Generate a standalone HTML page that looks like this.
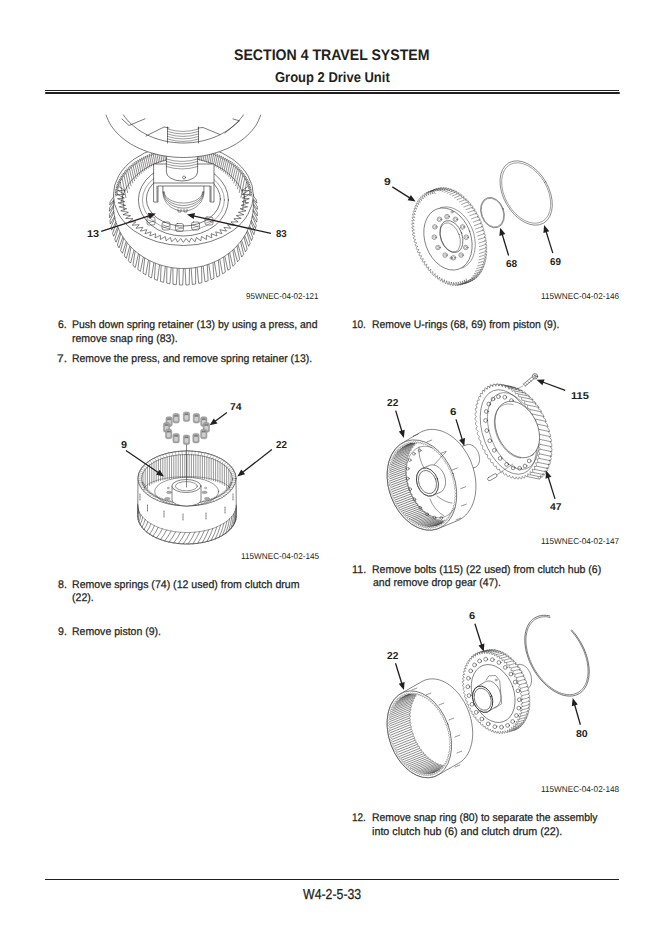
<!DOCTYPE html>
<html><head><meta charset="utf-8"><title>W4-2-5-33</title>
<style>
html,body{margin:0;padding:0;background:#fff}
body{width:665px;height:937px;position:relative;overflow:hidden}
.t{position:absolute;font-family:"Liberation Sans",sans-serif;white-space:pre;line-height:1;color:#231f20;transform-origin:0 0;text-rendering:geometricPrecision;-webkit-text-stroke:0.25px #231f20}
.b{font-weight:bold;-webkit-text-stroke:0}
.c{-webkit-text-stroke:0}
.r{position:absolute;background:#231f20}
svg{position:absolute;left:0;top:0}
</style></head><body>

<svg width="665" height="937" viewBox="0 0 665 937"><defs><clipPath id="c4"><ellipse cx="422.0" cy="485.0" rx="30.7" ry="43.2" transform="rotate(-20 422.0 485.0)"/></clipPath><clipPath id="c5"><ellipse cx="419.4" cy="734.3" rx="27.8" ry="41.3" transform="rotate(-20 419.4 734.3)"/></clipPath></defs><g stroke="#231f20" fill="none" stroke-width="0.6" stroke-linejoin="round" stroke-linecap="round"><ellipse cx="183.4" cy="212.0" rx="74.0" ry="73.0" transform="rotate(0 183.4 212.0)" fill="#fff" stroke="none"/><path d="M252.3 194.5 L256.4 200.0 Q256.6 201.6 256.9 203.2 L253.0 198.4 M253.1 200.0 L257.2 206.3 Q257.3 207.9 257.4 209.5 L253.4 203.9 M253.4 205.5 L257.4 212.7 Q257.3 214.3 257.3 215.9 L253.3 209.5 M253.1 211.0 L257.1 219.0 Q256.9 220.6 256.7 222.2 L252.6 215.0 M252.3 216.5 L256.2 225.4 Q255.8 226.9 255.5 228.5 L251.4 220.4 M251.0 221.9 L254.7 231.6 Q254.2 233.1 253.8 234.6 L249.7 225.8 M249.2 227.2 L252.7 237.6 Q252.1 239.1 251.5 240.6 L247.5 230.9 M246.8 232.3 L250.2 243.5 Q249.4 244.9 248.7 246.3 L244.9 235.9 M244.0 237.2 L247.1 249.1 Q246.3 250.5 245.4 251.8 L241.7 240.6 M240.7 241.9 L243.6 254.4 Q242.6 255.7 241.7 257.0 L238.1 245.1 M237.0 246.3 L239.6 259.4 Q238.6 260.6 237.5 261.8 L234.1 249.3 M232.9 250.4 L235.2 264.1 Q234.0 265.2 232.9 266.3 L229.7 253.1 M228.4 254.1 L230.4 268.4 Q229.2 269.4 227.9 270.3 L224.9 256.6 M223.6 257.5 L225.3 272.2 Q223.9 273.1 222.5 273.9 L219.9 259.7 M218.4 260.5 L219.8 275.6 Q218.4 276.3 216.9 277.1 L214.5 262.4 M213.0 263.1 L214.0 278.4 Q212.5 279.1 211.0 279.7 L208.9 264.6 M207.3 265.2 L208.1 280.8 Q206.5 281.3 205.0 281.8 L203.2 266.4 M201.5 266.8 L201.9 282.7 Q200.3 283.1 198.7 283.4 L197.2 267.7 M195.6 268.0 L195.6 284.0 Q194.0 284.2 192.3 284.5 L191.2 268.6 M189.5 268.8 L189.2 284.8 Q187.5 284.9 185.9 285.0 L185.1 269.0 M183.4 269.0 L182.7 285.0 Q181.1 284.9 179.4 284.9 L179.0 268.9 M177.3 268.8 L176.3 284.7 Q174.6 284.5 173.0 284.3 L172.9 268.3 M171.2 268.0 L169.9 283.8 Q168.3 283.4 166.7 283.1 L166.9 267.2 M165.3 266.8 L163.6 282.3 Q162.0 281.9 160.5 281.4 L161.1 265.7 M159.5 265.2 L157.4 280.4 Q155.9 279.8 154.4 279.2 L155.4 263.7 M153.8 263.1 L151.5 277.9 Q150.0 277.1 148.6 276.4 L149.9 261.3 M148.4 260.5 L145.8 274.9 Q144.4 274.0 143.0 273.2 L144.7 258.4 M143.2 257.5 L140.4 271.4 Q139.1 270.4 137.8 269.5 L139.7 255.1 M138.4 254.1 L135.3 267.5 Q134.1 266.4 132.9 265.3 L135.1 251.5 M133.9 250.4 L130.6 263.1 Q129.5 262.0 128.4 260.8 L130.9 247.5 M129.8 246.3 L126.3 258.4 Q125.3 257.1 124.3 255.9 L127.1 243.2 M126.1 241.9 L122.4 253.3 Q121.5 252.0 120.6 250.6 L123.7 238.6 M122.8 237.2 L119.0 247.9 Q118.2 246.5 117.4 245.1 L120.7 233.7 M120.0 232.3 L116.0 242.2 Q115.4 240.8 114.8 239.3 L118.2 228.7 M117.6 227.2 L113.6 236.3 Q113.1 234.8 112.6 233.3 L116.2 223.4 M115.8 221.9 L111.7 230.2 Q111.4 228.7 111.0 227.1 L114.8 218.1 M114.5 216.5 L110.4 224.0 Q110.2 222.4 109.9 220.8 L113.8 212.6 M113.7 211.0 L109.6 217.7 Q109.5 216.1 109.4 214.5 L113.4 207.1 M113.4 205.5 L109.4 211.3 Q109.5 209.7 109.5 208.1 L113.5 201.5 M113.7 200.0 L109.7 205.0 Q109.9 203.4 110.1 201.8 L114.2 196.0" stroke-width="0.55"/><path d="M253.1 199.5 L253.4 202.8 L253.4 206.1 L253.2 209.5 L252.9 212.8 L252.3 216.1 L251.6 219.4 L250.7 222.6 L249.5 225.8 L248.2 228.9 L246.8 232.0 L245.1 235.0 L243.3 237.9 L241.3 240.7 L239.1 243.4 L236.8 246.0 L234.4 248.5 L231.8 250.9 L229.1 253.1 L226.2 255.2 L223.2 257.2 L220.1 259.0 L217.0 260.7 L213.7 262.2 L210.3 263.6 L206.9 264.8 L203.4 265.9 L199.8 266.7 L196.2 267.4 L192.6 268.0 L188.9 268.3 L185.2 268.5 L181.6 268.5 L177.9 268.3 L174.2 268.0 L170.6 267.4 L167.0 266.7 L163.4 265.9 L159.9 264.8 L156.5 263.6 L153.1 262.2 L149.8 260.7 L146.7 259.0 L143.6 257.2 L140.6 255.2 L137.7 253.1 L135.0 250.9 L132.4 248.5 L130.0 246.0 L127.7 243.4 L125.5 240.7 L123.5 237.9 L121.7 235.0 L120.0 232.0 L118.6 228.9 L117.3 225.8 L116.1 222.6 L115.2 219.4 L114.5 216.1 L113.9 212.8 L113.6 209.5 L113.4 206.1 L113.4 202.8 L113.7 199.5" stroke-width="0.55"/><ellipse cx="183.4" cy="195.0" rx="70.0" ry="50.5" transform="rotate(0 183.4 195.0)" fill="#fff"/><path d="M120.4 182.2 L124.2 210.0 M122.2 178.6 L125.9 197.6 M124.1 175.7 L127.6 192.6 M125.9 173.2 L129.3 188.8 M127.7 171.1 L131.0 185.7 M129.5 169.2 L132.8 183.0 M131.4 167.5 L134.5 180.7 M133.2 165.9 L136.2 178.6 M135.0 164.4 L137.9 176.7 M136.8 163.1 L139.6 175.0 M138.7 161.9 L141.3 173.4 M140.5 160.7 L143.1 171.9 M142.3 159.7 L144.8 170.6 M144.1 158.7 L146.5 169.3 M146.0 157.8 L148.2 168.2 M147.8 156.9 L149.9 167.1 M149.6 156.1 L151.6 166.1 M151.4 155.4 L153.4 165.2 M153.3 154.7 L155.1 164.3 M155.1 154.1 L156.8 163.5 M156.9 153.5 L158.5 162.8 M158.7 153.0 L160.2 162.1 M160.6 152.5 L161.9 161.5 M162.4 152.0 L163.7 161.0 M164.2 151.6 L165.4 160.5 M166.1 151.2 L167.1 160.0 M167.9 150.9 L168.8 159.6 M169.7 150.6 L170.5 159.2 M171.5 150.4 L172.2 158.9 M173.4 150.1 L174.0 158.7 M175.2 150.0 L175.7 158.4 M177.0 149.8 L177.4 158.3 M178.8 149.7 L179.1 158.1 M180.7 149.6 L180.8 158.0 M182.5 149.6 L182.5 158.0 M184.3 149.6 L184.3 158.0 M186.1 149.6 L186.0 158.0 M188.0 149.7 L187.7 158.1 M189.8 149.8 L189.4 158.3 M191.6 150.0 L191.1 158.4 M193.4 150.1 L192.8 158.7 M195.3 150.4 L194.6 158.9 M197.1 150.6 L196.3 159.2 M198.9 150.9 L198.0 159.6 M200.7 151.2 L199.7 160.0 M202.6 151.6 L201.4 160.5 M204.4 152.0 L203.1 161.0 M206.2 152.5 L204.9 161.5 M208.1 153.0 L206.6 162.1 M209.9 153.5 L208.3 162.8 M211.7 154.1 L210.0 163.5 M213.5 154.7 L211.7 164.3 M215.4 155.4 L213.4 165.2 M217.2 156.1 L215.2 166.1 M219.0 156.9 L216.9 167.1 M220.8 157.8 L218.6 168.2 M222.7 158.7 L220.3 169.3 M224.5 159.7 L222.0 170.6 M226.3 160.7 L223.7 171.9 M228.1 161.9 L225.5 173.4 M230.0 163.1 L227.2 175.0 M231.8 164.4 L228.9 176.7 M233.6 165.9 L230.6 178.6 M235.4 167.5 L232.3 180.7 M237.3 169.2 L234.0 183.0 M239.1 171.1 L235.8 185.7 M240.9 173.2 L237.5 188.8 M242.7 175.7 L239.2 192.6 M244.6 178.6 L240.9 197.6 M246.4 182.2 L242.6 210.0" stroke-width="0.5"/><path d="M121.0 202.8 L121.6 200.0 L122.3 197.4 L123.2 194.7 L124.3 192.1 L125.5 189.5 L126.9 187.0 L128.4 184.6 L130.1 182.2 L132.0 179.9 L134.0 177.7 L136.1 175.6 L138.4 173.6 L140.8 171.7 L143.3 169.9 L146.0 168.2 L148.7 166.6 L151.5 165.1 L154.5 163.8 L157.5 162.6 L160.6 161.5 L163.7 160.6 L166.9 159.8 L170.1 159.2 L173.4 158.7 L176.7 158.3 L180.1 158.1 L183.4 158.0 L186.7 158.1 L190.1 158.3 L193.4 158.7 L196.7 159.2 L199.9 159.8 L203.1 160.6 L206.2 161.5 L209.3 162.6 L212.3 163.8 L215.3 165.1 L218.1 166.6 L220.8 168.2 L223.5 169.9 L226.0 171.7 L228.4 173.6 L230.7 175.6 L232.8 177.7 L234.8 179.9 L236.7 182.2 L238.4 184.6 L239.9 187.0 L241.3 189.5 L242.5 192.1 L243.6 194.7 L244.5 197.4 L245.2 200.0 L245.8 202.8" stroke-width="0.5"/><path d="M114.8 196.0 L117.4 195.4 L117.4 194.9 L114.8 194.3 L117.5 193.8 L117.5 193.3 L114.9 192.6 L117.6 192.2 L117.7 191.7 L115.1 191.0 L117.9 190.6 L117.9 190.1 L115.4 189.3 L118.2 189.0 L118.3 188.5 L115.8 187.6 L118.5 187.4 L118.7 186.9 L116.3 186.0 L119.0 185.8 L119.2 185.3 L116.8 184.3 L119.6 184.2 L119.7 183.8 L117.4 182.7 L120.2 182.7 L120.4 182.2 L118.1 181.1 L120.9 181.1 L121.1 180.7 L118.9 179.5 L121.7 179.6 L121.9 179.1 L119.8 177.9 L122.5 178.1 L122.8 177.6 L120.7 176.4 L123.4 176.6 L123.7 176.2 L121.7 174.8 L124.4 175.2 L124.8 174.7 L122.8 173.3 L125.5 173.7 L125.8 173.3 L124.0 171.9 L126.6 172.3 L127.0 171.9 L125.2 170.4 L127.9 170.9 L128.2 170.5 L126.5 169.0 L129.1 169.6 L129.5 169.2 L127.9 167.6 L130.5 168.3 L130.9 167.9 L129.3 166.3 L131.9 167.0 L132.3 166.6 L130.8 165.0 L133.4 165.7 L133.8 165.4 L132.4 163.7 L134.9 164.5 L135.4 164.2 L134.0 162.5 L136.5 163.4 L137.0 163.0 L135.7 161.3 L138.1 162.2 L138.6 161.9 L137.5 160.1 L139.8 161.1 L140.4 160.8 L139.3 159.0 L141.6 160.1 L142.1 159.8 L141.1 158.0 L143.4 159.1 L144.0 158.8 L143.1 157.0 L145.3 158.1 L145.8 157.9 L145.0 156.0 L147.2 157.2 L147.7 157.0 L147.0 155.1 L149.1 156.4 L149.7 156.1 L149.1 154.2 L151.1 155.5 L151.7 155.3 L151.2 153.4 L153.1 154.8 L153.7 154.5 L153.3 152.6 L155.2 154.1 L155.8 153.8 L155.5 151.9 L157.3 153.4 L157.9 153.2 L157.7 151.3 L159.4 152.8 L160.1 152.6 L159.9 150.7 L161.6 152.2 L162.2 152.0 L162.2 150.1 L163.8 151.7 L164.4 151.6 L164.5 149.6 L166.0 151.2 L166.7 151.1 L166.8 149.2 L168.2 150.8 L168.9 150.7 L169.1 148.8 L170.5 150.5 L171.1 150.4 L171.5 148.5 L172.7 150.2 L173.4 150.1 L173.8 148.2 L175.0 150.0 L175.7 149.9 L176.2 148.0 L177.3 149.8 L178.0 149.8 L178.6 147.9 L179.6 149.7 L180.3 149.7 L181.0 147.8 L181.9 149.6 L182.6 149.6 L183.4 147.7 L184.2 149.6 L184.9 149.6 L185.8 147.8 L186.5 149.7 L187.2 149.7 L188.2 147.9 L188.8 149.8 L189.5 149.8 L190.6 148.0 L191.1 149.9 L191.8 150.0 L193.0 148.2 L193.4 150.1 L194.1 150.2 L195.3 148.5 L195.7 150.4 L196.3 150.5 L197.7 148.8 L197.9 150.7 L198.6 150.8 L200.0 149.2 L200.1 151.1 L200.8 151.2 L202.3 149.6 L202.4 151.6 L203.0 151.7 L204.6 150.1 L204.6 152.0 L205.2 152.2 L206.9 150.7 L206.7 152.6 L207.4 152.8 L209.1 151.3 L208.9 153.2 L209.5 153.4 L211.3 151.9 L211.0 153.8 L211.6 154.1 L213.5 152.6 L213.1 154.5 L213.7 154.8 L215.6 153.4 L215.1 155.3 L215.7 155.5 L217.7 154.2 L217.1 156.1 L217.7 156.4 L219.8 155.1 L219.1 157.0 L219.6 157.2 L221.8 156.0 L221.0 157.9 L221.5 158.1 L223.7 157.0 L222.8 158.8 L223.4 159.1 L225.7 158.0 L224.7 159.8 L225.2 160.1 L227.5 159.0 L226.4 160.8 L227.0 161.1 L229.3 160.1 L228.2 161.9 L228.7 162.2 L231.1 161.3 L229.8 163.0 L230.3 163.4 L232.8 162.5 L231.4 164.2 L231.9 164.5 L234.4 163.7 L233.0 165.4 L233.4 165.7 L236.0 165.0 L234.5 166.6 L234.9 167.0 L237.5 166.3 L235.9 167.9 L236.3 168.3 L238.9 167.6 L237.3 169.2 L237.7 169.6 L240.3 169.0 L238.6 170.5 L238.9 170.9 L241.6 170.4 L239.8 171.9 L240.2 172.3 L242.8 171.9 L241.0 173.3 L241.3 173.7 L244.0 173.3 L242.0 174.7 L242.4 175.2 L245.1 174.8 L243.1 176.2 L243.4 176.6 L246.1 176.4 L244.0 177.6 L244.3 178.1 L247.0 177.9 L244.9 179.1 L245.1 179.6 L247.9 179.5 L245.7 180.7 L245.9 181.1 L248.7 181.1 L246.4 182.2 L246.6 182.7 L249.4 182.7 L247.1 183.8 L247.2 184.2 L250.0 184.3 L247.6 185.3 L247.8 185.8 L250.5 186.0 L248.1 186.9 L248.3 187.4 L251.0 187.6 L248.5 188.5 L248.6 189.0 L251.4 189.3 L248.9 190.1 L248.9 190.6 L251.7 191.0 L249.1 191.7 L249.2 192.2 L251.9 192.6 L249.3 193.3 L249.3 193.8 L252.0 194.3 L249.4 194.9 L249.4 195.4 L252.0 196.0" stroke-width="0.45"/><path d="M248.0 186.4 L241.6 190.8 L248.9 190.4 L242.2 194.4 L249.4 194.5 L242.4 198.0 L249.3 198.7 L242.1 201.7 L248.7 202.8 L241.3 205.3 L247.6 206.8 L240.1 208.8 L246.0 210.8 L238.4 212.3 L243.8 214.7 L236.3 215.6 L241.2 218.4 L233.8 218.8 L238.2 221.9 L230.9 221.9 L234.7 225.2 L227.6 224.7 L230.8 228.3 L223.9 227.3 L226.5 231.1 L219.9 229.7 L221.9 233.7 L215.7 231.8 L217.0 235.9 L211.1 233.7 L211.8 237.9 L206.4 235.3 L206.4 239.5 L201.5 236.5 L200.8 240.8 L196.4 237.5 L195.1 241.7 L191.3 238.1 L189.3 242.2 L186.0 238.5 L183.4 242.4 L180.8 238.5 L177.5 242.2 L175.5 238.1 L171.7 241.7 L170.4 237.5 L166.0 240.8 L165.3 236.5 L160.4 239.5 L160.4 235.3 L155.0 237.9 L155.7 233.7 L149.8 235.9 L151.1 231.8 L144.9 233.7 L146.9 229.7 L140.3 231.1 L142.9 227.3 L136.0 228.3 L139.2 224.7 L132.1 225.2 L135.9 221.9 L128.6 221.9 L133.0 218.8 L125.6 218.4 L130.5 215.6 L123.0 214.7 L128.4 212.3 L120.8 210.8 L126.7 208.8 L119.2 206.8 L125.5 205.3 L118.1 202.8 L124.7 201.7 L117.5 198.7 L124.4 198.0 L117.4 194.5 L124.6 194.4 L117.9 190.4 L125.2 190.8 L118.8 186.4" stroke-width="0.55"/><ellipse cx="183.4" cy="200.0" rx="45.0" ry="36.0" transform="rotate(0 183.4 200.0)" fill="#fff"/><ellipse cx="183.4" cy="199.0" rx="37.0" ry="27.0" transform="rotate(0 183.4 199.0)" /><ellipse cx="183.4" cy="200.0" rx="41.0" ry="31.0" transform="rotate(0 183.4 200.0)" stroke-width="0.4"/><rect x="147" y="217" width="8" height="8" rx="2" stroke-width="0.5"/><path d="M148 220 l6 2 M148 223 l6 -2" stroke-width="0.4"/><rect x="162" y="222" width="8" height="8" rx="2" stroke-width="0.5"/><path d="M163 225 l6 2 M163 228 l6 -2" stroke-width="0.4"/><rect x="175.5" y="223.5" width="8" height="8" rx="2" stroke-width="0.5"/><path d="M176.5 226.5 l6 2 M176.5 229.5 l6 -2" stroke-width="0.4"/><rect x="191.5" y="222" width="8" height="8" rx="2" stroke-width="0.5"/><path d="M192.5 225 l6 2 M192.5 228 l6 -2" stroke-width="0.4"/><rect x="205" y="217" width="8" height="8" rx="2" stroke-width="0.5"/><path d="M206 220 l6 2 M206 223 l6 -2" stroke-width="0.4"/><path d="M203.9 192.0 L203.9 193.0 L203.8 194.0 L203.6 195.0 L203.5 196.0 L203.2 196.9 L202.9 197.9 L202.5 198.8 L202.1 199.7 L201.7 200.6 L201.2 201.5 L200.6 202.3 L200.0 203.2 L199.3 204.0 L198.6 204.7 L197.9 205.4 L197.1 206.1 L196.3 206.8 L195.4 207.4 L194.6 207.9 L193.7 208.5 L192.7 208.9 L191.7 209.4 L190.7 209.7 L189.7 210.1 L188.7 210.4 L187.7 210.6 L186.6 210.8 L185.5 210.9 L184.5 211.0 L183.4 211.0 L182.3 211.0 L181.3 210.9 L180.2 210.8 L179.1 210.6 L178.1 210.4 L177.1 210.1 L176.1 209.7 L175.1 209.4 L174.1 208.9 L173.2 208.5 L172.2 207.9 L171.4 207.4 L170.5 206.8 L169.7 206.1 L168.9 205.4 L168.2 204.7 L167.5 204.0 L166.8 203.2 L166.2 202.3 L165.6 201.5 L165.1 200.6 L164.7 199.7 L164.3 198.8 L163.9 197.9 L163.6 196.9 L163.3 196.0 L163.2 195.0 L163.0 194.0 L162.9 193.0 L162.9 192.0" stroke-width="0.5"/><path d="M203.4 192.0 L203.4 192.8 L203.3 193.7 L203.2 194.5 L203.0 195.3 L202.7 196.1 L202.4 196.9 L202.1 197.7 L201.7 198.5 L201.2 199.3 L200.7 200.0 L200.2 200.7 L199.6 201.4 L198.9 202.1 L198.3 202.7 L197.5 203.3 L196.8 203.9 L196.0 204.4 L195.2 204.9 L194.3 205.4 L193.4 205.9 L192.5 206.3 L191.5 206.6 L190.6 206.9 L189.6 207.2 L188.6 207.5 L187.6 207.7 L186.5 207.8 L185.5 207.9 L184.4 208.0 L183.4 208.0 L182.4 208.0 L181.3 207.9 L180.3 207.8 L179.2 207.7 L178.2 207.5 L177.2 207.2 L176.2 206.9 L175.3 206.6 L174.3 206.3 L173.4 205.9 L172.5 205.4 L171.6 204.9 L170.8 204.4 L170.0 203.9 L169.3 203.3 L168.5 202.7 L167.9 202.1 L167.2 201.4 L166.6 200.7 L166.1 200.0 L165.6 199.3 L165.1 198.5 L164.7 197.7 L164.4 196.9 L164.1 196.1 L163.8 195.3 L163.6 194.5 L163.5 193.7 L163.4 192.8 L163.4 192.0" stroke-width="0.5"/><path d="M202.9 192.0 L202.9 192.7 L202.8 193.4 L202.7 194.1 L202.5 194.8 L202.2 195.5 L201.9 196.2 L201.6 196.8 L201.2 197.5 L200.8 198.1 L200.3 198.8 L199.8 199.4 L199.2 199.9 L198.6 200.5 L197.9 201.0 L197.2 201.5 L196.4 202.0 L195.7 202.5 L194.9 202.9 L194.0 203.3 L193.2 203.7 L192.3 204.0 L191.3 204.3 L190.4 204.6 L189.4 204.8 L188.4 205.0 L187.5 205.2 L186.5 205.3 L185.4 205.4 L184.4 205.5 L183.4 205.5 L182.4 205.5 L181.4 205.4 L180.3 205.3 L179.3 205.2 L178.4 205.0 L177.4 204.8 L176.4 204.6 L175.5 204.3 L174.5 204.0 L173.7 203.7 L172.8 203.3 L171.9 202.9 L171.1 202.5 L170.4 202.0 L169.6 201.5 L168.9 201.0 L168.2 200.5 L167.6 199.9 L167.0 199.4 L166.5 198.8 L166.0 198.1 L165.6 197.5 L165.2 196.8 L164.9 196.2 L164.6 195.5 L164.3 194.8 L164.1 194.1 L164.0 193.4 L163.9 192.7 L163.9 192.0" stroke-width="0.5"/><path d="M202.4 192.0 L202.4 192.6 L202.3 193.1 L202.2 193.7 L202.0 194.3 L201.8 194.8 L201.5 195.4 L201.1 195.9 L200.8 196.5 L200.3 197.0 L199.9 197.5 L199.3 198.0 L198.8 198.5 L198.2 198.9 L197.5 199.4 L196.8 199.8 L196.1 200.2 L195.4 200.5 L194.6 200.9 L193.7 201.2 L192.9 201.5 L192.0 201.8 L191.1 202.0 L190.2 202.3 L189.3 202.5 L188.3 202.6 L187.4 202.8 L186.4 202.9 L185.4 202.9 L184.4 203.0 L183.4 203.0 L182.4 203.0 L181.4 202.9 L180.4 202.9 L179.4 202.8 L178.5 202.6 L177.5 202.5 L176.6 202.3 L175.7 202.0 L174.8 201.8 L173.9 201.5 L173.1 201.2 L172.2 200.9 L171.4 200.5 L170.7 200.2 L170.0 199.8 L169.3 199.4 L168.6 198.9 L168.0 198.5 L167.5 198.0 L166.9 197.5 L166.5 197.0 L166.0 196.5 L165.7 195.9 L165.3 195.4 L165.0 194.8 L164.8 194.3 L164.6 193.7 L164.5 193.1 L164.4 192.6 L164.4 192.0" stroke-width="0.5"/><path d="M162.9 192 L162.9 186 M203.9 192 L203.9 186"/><path d="M178 209 v3 h3 v-3 M184 209 v3 h3 v-3" stroke-width="0.5"/><path d="M154 164 H214 V202 H210 V186 H158 V202 H154 Z" fill="#fff"/><path d="M154 183 H214 M157 186 V201 M211 186 V201"/><path d="M166.4 155 V172 A15.6 9 0 0 0 197.6 172 V155" fill="#fff"/><path d="M166.4 159 Q182 164 197.6 159" stroke-width="0.45"/><path d="M166.4 161.5 Q182 166.5 197.6 161.5" stroke-width="0.45"/><path d="M166.4 164 Q182 169 197.6 164" stroke-width="0.45"/><path d="M166.4 166.5 Q182 171.5 197.6 166.5" stroke-width="0.45"/><circle cx="184" cy="177.5" r="1.5" stroke-width="0.5"/><path d="M106.1 115.1 L107.1 117.8 L108.3 120.5 L109.6 123.2 L111.2 125.8 L113.0 128.3 L115.0 130.8 L117.1 133.1 L119.5 135.4 L122.0 137.7 L124.7 139.8 L127.5 141.8 L130.5 143.8 L133.7 145.6 L137.0 147.3 L140.4 148.9 L143.9 150.3 L147.5 151.7 L151.3 152.9 L155.1 153.9 L159.0 154.9 L163.0 155.7 L167.0 156.3 L171.0 156.8 L175.1 157.2 L179.3 157.4 L183.4 157.5 L187.5 157.4 L191.7 157.2 L195.8 156.8 L199.8 156.3 L203.8 155.7 L207.8 154.9 L211.7 153.9 L215.5 152.9 L219.3 151.7 L222.9 150.3 L226.4 148.9 L229.8 147.3 L233.1 145.6 L236.3 143.8 L239.3 141.8 L242.1 139.8 L244.8 137.7 L247.3 135.4 L249.7 133.1 L251.8 130.8 L253.8 128.3 L255.6 125.8 L257.2 123.2 L258.5 120.5 L259.7 117.8 L260.7 115.1 L259 112 L105 112 Z" fill="#fff" stroke="none"/><path d="M106.1 115.1 L107.1 117.8 L108.3 120.5 L109.6 123.2 L111.2 125.8 L113.0 128.3 L115.0 130.8 L117.1 133.1 L119.5 135.4 L122.0 137.7 L124.7 139.8 L127.5 141.8 L130.5 143.8 L133.7 145.6 L137.0 147.3 L140.4 148.9 L143.9 150.3 L147.5 151.7 L151.3 152.9 L155.1 153.9 L159.0 154.9 L163.0 155.7 L167.0 156.3 L171.0 156.8 L175.1 157.2 L179.3 157.4 L183.4 157.5 L187.5 157.4 L191.7 157.2 L195.8 156.8 L199.8 156.3 L203.8 155.7 L207.8 154.9 L211.7 153.9 L215.5 152.9 L219.3 151.7 L222.9 150.3 L226.4 148.9 L229.8 147.3 L233.1 145.6 L236.3 143.8 L239.3 141.8 L242.1 139.8 L244.8 137.7 L247.3 135.4 L249.7 133.1 L251.8 130.8 L253.8 128.3 L255.6 125.8 L257.2 123.2 L258.5 120.5 L259.7 117.8 L260.7 115.1"/><path d="M123.4 114.9 L125.1 117.3 L127.1 119.7 L129.1 122.0 L131.4 124.1 L133.8 126.2 L136.3 128.2 L138.9 130.1 L141.7 131.9 L144.6 133.5 L147.6 135.1 L150.7 136.5 L153.9 137.8 L157.2 138.9 L160.5 139.9 L163.9 140.8 L167.4 141.5 L170.9 142.1 L174.5 142.5 L178.0 142.8 L181.6 143.0 L185.2 143.0 L188.8 142.8 L192.3 142.5 L195.9 142.1 L199.4 141.5 L202.9 140.8 L206.3 139.9 L209.6 138.9 L212.9 137.8 L216.1 136.5 L219.2 135.1 L222.2 133.5 L225.1 131.9 L227.9 130.1 L230.5 128.2 L233.0 126.2 L235.4 124.1 L237.7 122.0 L239.7 119.7 L241.7 117.3 L243.4 114.9"/><path d="M122 119 L129 125.5 L145 118.8 M225 133 L239.5 120.8 L233 119"/><path d="M146 136 L164 127 L169 128 M220 134.5 L203 127.5 L198 128"/><path d="M167.5 127 V143 M198.5 127 V143"/><path d="M167.5 129 Q183 134 198.5 129" stroke-width="0.45"/><path d="M167.5 131.5 Q183 136.5 198.5 131.5" stroke-width="0.45"/><path d="M167.5 134 Q183 139 198.5 134" stroke-width="0.45"/><path d="M167.5 136.5 Q183 141.5 198.5 136.5" stroke-width="0.45"/><path d="M167.5 139 Q183 144 198.5 139" stroke-width="0.45"/></g><path d="M101.2 231.3 L149.7 215.6" stroke="#231f20" stroke-width="1.3" fill="none"/><path d="M155.9 213.6 L149.7 218.9 L147.8 213.0 Z" fill="#231f20"/><path d="M270.9 233.4 L193.3 215.8" stroke="#231f20" stroke-width="1.3" fill="none"/><path d="M187.0 214.4 L195.0 213.0 L193.6 219.1 Z" fill="#231f20"/><g stroke="#333" fill="none" stroke-width="0.6" stroke-linejoin="round" stroke-linecap="round"><path d="M411.8 223.9 L411.8 221.6 L412.0 219.2 L412.2 217.0 L412.5 214.8 L413.0 212.6 L413.5 210.5 L414.1 208.5 L414.8 206.6 L415.5 204.7 L416.4 203.0 L417.3 201.3 L418.3 199.8 L419.4 198.3 L420.6 197.0 L421.8 195.8 L423.1 194.6 L424.5 193.6 L425.9 192.8 L427.4 192.0 L428.9 191.4 L435.9 188.9 L437.4 188.4 L439.1 188.0 L440.7 187.8 L442.4 187.7 L444.1 187.7 L445.8 187.8 L447.6 188.1 L449.3 188.5 L451.1 189.1 L452.9 189.8 L454.7 190.5 L456.4 191.5 L458.2 192.5 L460.0 193.7 L461.7 194.9 L463.4 196.3 L465.1 197.8 L466.7 199.4 L468.3 201.1 L469.9 202.8 L471.4 204.7 L472.9 206.7 L474.3 208.7 L475.6 210.8 L476.9 213.0 L478.1 215.2 L479.3 217.5 L480.4 219.9 L481.4 222.2 L482.3 224.7 L483.1 227.1 L483.9 229.6 L484.6 232.1 L485.2 234.6 L485.7 237.1 L486.1 239.6 L486.4 242.0 L486.6 244.5 L486.8 246.9 L486.8 249.4 L486.8 251.7 L486.6 254.1 L486.4 256.3 L486.1 258.5 L485.6 260.7 L485.1 262.8 L484.5 264.8 L483.8 266.7 L483.1 268.6 L482.2 270.3 L481.3 272.0 L480.3 273.5 L479.2 275.0 L478.0 276.3 L476.8 277.6 L475.5 278.7 L474.1 279.7 L472.7 280.5 L471.2 281.3 L469.7 281.9 L462.7 284.4 L461.2 284.9 L459.6 285.3 L457.9 285.5 L456.2 285.6 L454.5 285.6 L452.8 285.5 L451.0 285.2 L449.3 284.8 L447.5 284.2 L445.7 283.6 L443.9 282.8 L442.1 281.8 L440.4 280.8 L438.6 279.6 L436.9 278.4 L435.2 277.0 L433.5 275.5 L431.9 273.9 L430.3 272.2 L428.7 270.5 L427.2 268.6 L425.7 266.6 L424.3 264.6 L423.0 262.5 L421.7 260.3 L420.5 258.1 L419.3 255.8 L418.2 253.4 L417.2 251.1 L416.3 248.6 L415.4 246.2 L414.7 243.7 L414.0 241.2 L413.4 238.7 L412.9 236.2 L412.5 233.7 L412.2 231.3 L412.0 228.8 L411.8 226.3 Z" fill="#fff" stroke="none"/><path d="M432.1 193.7 L431.7 191.0 L432.3 190.6 L434.0 192.5 L433.7 189.8 L434.4 189.5 L436.0 191.5 L435.9 188.9 L436.5 188.7 L438.1 190.8 L438.1 188.2 L438.8 188.1 L440.3 190.3 L440.4 187.8 L441.1 187.7 L442.5 190.1 L442.8 187.7 L443.5 187.7 L444.8 190.1 L445.2 187.8 L446.0 187.9 L447.2 190.4 L447.7 188.2 L448.5 188.3 L449.5 190.9 L450.2 188.8 L451.0 189.0 L451.9 191.7 L452.8 189.7 L453.5 190.0 L454.3 192.7 L455.3 190.8 L456.0 191.2 L456.7 193.9 L457.8 192.2 L458.5 192.7 L459.1 195.4 L460.3 193.9 L461.0 194.4 L461.4 197.1 L462.7 195.7 L463.4 196.3 L463.7 199.0 L465.1 197.8 L465.8 198.5 L465.9 201.1 L467.4 200.1 L468.1 200.8 L468.1 203.4 L469.7 202.6 L470.3 203.4 L470.2 205.9 L471.8 205.2 L472.4 206.1 L472.1 208.5 L473.9 208.1 L474.4 209.0 L474.0 211.3 L475.8 211.1 L476.3 212.0 L475.8 214.2 L477.6 214.2 L478.1 215.1 L477.4 217.2 L479.2 217.4 L479.7 218.4 L478.9 220.3 L480.8 220.7 L481.2 221.7 L480.2 223.6 L482.1 224.1 L482.5 225.2 L481.4 226.8 L483.3 227.6 L483.6 228.7 L482.4 230.2 L484.3 231.1 L484.6 232.2 L483.3 233.5 L485.2 234.7 L485.4 235.7 L484.0 236.9 L485.9 238.2 L486.1 239.3 L484.6 240.3 L486.4 241.7 L486.5 242.8 L484.9 243.6 L486.7 245.2 L486.7 246.3 L485.1 246.9 L486.8 248.7 L486.8 249.7 L485.1 250.1 L486.8 252.0 L486.7 253.0 L484.9 253.2 L486.5 255.3 L486.4 256.3 L484.6 256.3 L486.1 258.5 L485.9 259.4 L484.0 259.2 L485.4 261.5 L485.2 262.4 L483.3 262.0 L484.6 264.4 L484.4 265.2 L482.5 264.7 L483.7 267.1 L483.3 267.9 L481.4 267.2 L482.5 269.7 L482.2 270.4 L480.2 269.5 L481.2 272.1 L480.8 272.7 L478.9 271.6 L479.8 274.2 L479.3 274.8 L477.4 273.5 L478.1 276.2 L477.6 276.7 L475.8 275.2 L476.4 277.9 L475.8 278.4 L474.1 276.7 L474.5 279.4 L473.9 279.8 L472.2 278.0 L472.5 280.7 L471.9 281.0 L470.2 279.0 L470.4 281.7 L469.7 281.9 L468.1 279.8 L468.2 282.4 L467.5 282.6 L466.0 280.4 L465.9 282.9 L465.2 283.0 L463.8 280.7" stroke-width="0.4"/><path d="M425.9 193.3 L432.7 190.4 M428.0 192.3 L434.8 189.3 M430.1 191.5 L437.0 188.5 M432.4 190.9 L439.3 188.0 M434.8 190.7 L441.7 187.7 M437.2 190.7 L444.1 187.7 M439.6 190.9 L446.6 187.9 M442.1 191.4 L449.1 188.5 M444.6 192.2 L451.6 189.3 M447.1 193.3 L454.2 190.3 M449.7 194.5 L456.7 191.6 M452.2 196.1 L459.2 193.1 M454.6 197.8 L461.7 194.9 M457.0 199.8 L464.1 196.9 M459.4 202.0 L466.5 199.1 M461.6 204.4 L468.8 201.6 M463.8 207.0 L471.0 204.2 M465.9 209.7 L473.1 207.0 M467.8 212.7 L475.1 209.9 M469.7 215.7 L476.9 213.0 M471.4 218.9 L478.6 216.2 M473.0 222.2 L480.2 219.5 M474.4 225.6 L481.7 222.9 M475.6 229.0 L482.9 226.4 M476.7 232.5 L484.0 229.9 M477.6 236.0 L484.9 233.5 M478.4 239.5 L485.7 237.1 M478.9 243.1 L486.2 240.6 M479.3 246.6 L486.6 244.2 M479.5 250.0 L486.8 247.6 M479.5 253.4 L486.8 251.1 M479.3 256.7 L486.6 254.4 M478.9 259.9 L486.2 257.6 M478.3 262.9 L485.6 260.7 M477.6 265.9 L484.9 263.7 M476.6 268.6 L483.9 266.4 M475.5 271.2 L482.8 269.1 M474.3 273.6 L481.6 271.5 M472.8 275.9 L480.1 273.7 M471.3 277.9 L478.5 275.8 M469.6 279.6 L476.8 277.6 M467.7 281.2 L474.9 279.1 M465.7 282.5 L472.9 280.4 M463.6 283.5 L470.8 281.5 M461.5 284.3 L468.6 282.3 M459.2 284.9 L466.3 282.8 M456.8 285.1 L463.9 283.1" stroke-width="0.45"/><ellipse cx="445.8" cy="237.9" rx="30.5" ry="48.0" transform="rotate(-20 445.8 237.9)" fill="#fff" stroke="none"/><path d="M466.1 278.8 L466.9 282.3 L466.3 282.7 L464.2 279.9 L464.9 283.5 L464.2 283.8 L462.3 280.9 L462.7 284.4 L462.1 284.6 L460.2 281.6 L460.5 285.1 L459.8 285.2 L458.1 282.1 L458.2 285.5 L457.5 285.6 L455.9 282.3 L455.8 285.6 L455.1 285.6 L453.6 282.3 L453.4 285.5 L452.6 285.4 L451.3 282.0 L450.9 285.1 L450.1 285.0 L449.0 281.5 L448.4 284.5 L447.6 284.3 L446.7 280.7 L445.8 283.6 L445.1 283.3 L444.3 279.7 L443.3 282.5 L442.6 282.1 L442.0 278.5 L440.8 281.1 L440.1 280.6 L439.6 277.1 L438.3 279.4 L437.6 278.9 L437.4 275.4 L435.9 277.6 L435.2 277.0 L435.1 273.6 L433.5 275.5 L432.8 274.8 L432.9 271.5 L431.2 273.2 L430.5 272.5 L430.8 269.2 L428.9 270.7 L428.3 269.9 L428.8 266.8 L426.8 268.1 L426.2 267.2 L426.9 264.2 L424.7 265.2 L424.2 264.3 L425.0 261.5 L422.8 262.2 L422.3 261.3 L423.3 258.7 L421.0 259.1 L420.5 258.2 L421.7 255.7 L419.4 255.9 L418.9 254.9 L420.3 252.6 L417.8 252.6 L417.4 251.6 L419.0 249.5 L416.5 249.2 L416.1 248.1 L417.8 246.3 L415.3 245.7 L415.0 244.6 L416.8 243.0 L414.3 242.2 L414.0 241.1 L415.9 239.7 L413.4 238.6 L413.2 237.6 L415.2 236.4 L412.7 235.1 L412.5 234.0 L414.7 233.1 L412.2 231.6 L412.1 230.5 L414.4 229.9 L411.9 228.1 L411.9 227.0 L414.2 226.7 L411.8 224.6 L411.8 223.6 L414.2 223.5 L411.8 221.3 L411.9 220.3 L414.4 220.4 L412.1 218.0 L412.2 217.0 L414.7 217.5 L412.5 214.8 L412.7 213.9 L415.2 214.6 L413.2 211.8 L413.4 210.9 L415.9 211.8 L414.0 208.9 L414.2 208.1 L416.8 209.2 L414.9 206.2 L415.3 205.4 L417.8 206.8 L416.1 203.6 L416.4 202.9 L418.9 204.5 L417.4 201.2 L417.8 200.6 L420.2 202.5 L418.8 199.1 L419.3 198.5 L421.7 200.6 L420.5 197.1 L421.0 196.6 L423.3 198.9 L422.2 195.4 L422.8 194.9 L425.0 197.4 L424.1 193.9 L424.7 193.5 L426.8 196.2 L426.1 192.6 L426.7 192.3 L428.7 195.2 L428.2 191.6 L428.9 191.4 L430.8 194.4 L430.4 190.9 L431.1 190.7 L432.9 193.9 L432.7 190.4 L433.4 190.3 L435.1 193.6" stroke-width="0.45"/><path d="M440.1 207.9 L441.2 207.6 L442.4 207.3 L443.6 207.1 L444.8 207.0 L446.0 206.9 L447.3 207.0 L448.5 207.1 L449.8 207.3 L451.1 207.6 L452.3 208.0 L453.6 208.5 L454.8 209.0 L456.1 209.7 L457.3 210.4 L458.5 211.2 L459.7 212.0 L460.9 213.0 L462.1 214.0 L463.2 215.0 L464.2 216.2 L465.3 217.3 L466.3 218.6 L467.3 219.9 L468.2 221.2 L469.0 222.6 L469.9 224.1 L470.6 225.5 L471.4 227.0 L472.0 228.6 L472.6 230.1 L473.2 231.7 L473.6 233.3 L474.1 234.9 L474.4 236.6 L474.7 238.2 L474.9 239.8 L475.1 241.4 L475.2 243.0 L475.2 244.6 L475.2 246.2 L475.1 247.8 L474.9 249.3 L474.7 250.8 L474.4 252.3 L474.0 253.7 L473.6 255.1 L473.1 256.4 L472.6 257.7 L472.0 258.9 L471.3 260.1 L470.6 261.2 L469.8 262.3 L469.0 263.3 L468.1 264.2 L467.2 265.0 L466.2 265.8 L465.2 266.5 L464.1 267.1 L463.1 267.6 L461.9 268.1" stroke-width="0.5"/><ellipse cx="448.0" cy="239.0" rx="23.0" ry="32.0" transform="rotate(-20 448.0 239.0)" fill="#fff" stroke-width="0.55"/><g stroke="#444" fill="none" stroke-width="0.5" stroke-linejoin="round" stroke-linecap="round"><circle cx="466.3" cy="237.2" r="2.3"/><circle cx="465.8" cy="247.5" r="2.3"/><circle cx="461.1" cy="255.1" r="2.3"/><circle cx="453.5" cy="257.8" r="2.3"/><circle cx="445.1" cy="255.1" r="2.3"/><circle cx="438.0" cy="247.5" r="2.3"/><circle cx="434.3" cy="237.2" r="2.3"/><circle cx="434.8" cy="226.9" r="2.3"/><circle cx="439.5" cy="219.3" r="2.3"/><circle cx="447.1" cy="216.6" r="2.3"/><circle cx="455.5" cy="219.3" r="2.3"/><circle cx="462.6" cy="226.9" r="2.3"/></g><g stroke="#666" fill="none" stroke-width="0.4" stroke-linejoin="round" stroke-linecap="round"><circle cx="466.3" cy="237.2" r="1.2"/><circle cx="465.8" cy="247.5" r="1.2"/><circle cx="461.1" cy="255.1" r="1.2"/><circle cx="453.5" cy="257.8" r="1.2"/><circle cx="445.1" cy="255.1" r="1.2"/><circle cx="438.0" cy="247.5" r="1.2"/><circle cx="434.3" cy="237.2" r="1.2"/><circle cx="434.8" cy="226.9" r="1.2"/><circle cx="439.5" cy="219.3" r="1.2"/><circle cx="447.1" cy="216.6" r="1.2"/><circle cx="455.5" cy="219.3" r="1.2"/><circle cx="462.6" cy="226.9" r="1.2"/></g><ellipse cx="451.5" cy="236.5" rx="10.7" ry="16.5" transform="rotate(-20 451.5 236.5)" fill="#fff" stroke-width="0.6"/><ellipse cx="450.2" cy="237.5" rx="9.4" ry="15.3" transform="rotate(-20 450.2 237.5)" stroke-width="0.45"/><circle cx="451" cy="258" r="1.1" stroke-width="0.4"/><circle cx="452" cy="212" r="1.1" stroke-width="0.4"/></g><g stroke="#555" fill="none" stroke-width="0.6" stroke-linejoin="round" stroke-linecap="round"><ellipse cx="492.5" cy="212.6" rx="11.4" ry="15.7" transform="rotate(-20 492.5 212.6)" stroke-width="0.6"/><ellipse cx="492.5" cy="212.6" rx="10.7" ry="14.8" transform="rotate(-20 492.5 212.6)" stroke-width="0.5"/><ellipse cx="526.2" cy="193.0" rx="22.6" ry="34.8" transform="rotate(-30 526.2 193.0)" stroke-width="0.6"/><ellipse cx="526.2" cy="193.0" rx="21.2" ry="32.7" transform="rotate(-30 526.2 193.0)" stroke-width="0.5"/></g><path d="M392.3 186.9 L410.1 198.1" stroke="#231f20" stroke-width="1.3" fill="none"/><path d="M415.6 201.6 L407.6 200.2 L410.9 195.0 Z" fill="#231f20"/><path d="M508.6 255.5 L502.1 234.0" stroke="#231f20" stroke-width="1.3" fill="none"/><path d="M500.2 227.8 L505.3 234.1 L499.4 235.9 Z" fill="#231f20"/><path d="M552.8 253.1 L546.0 231.2" stroke="#231f20" stroke-width="1.3" fill="none"/><path d="M544.1 225.0 L549.3 231.2 L543.4 233.1 Z" fill="#231f20"/><g stroke="#333" fill="none" stroke-width="0.6" stroke-linejoin="round" stroke-linecap="round"><path d="M137.7 516.0 L138.0 478.5 L138.1 477.1 L138.3 475.6 L138.6 474.2 L139.1 472.8 L139.7 471.4 L140.4 470.0 L141.2 468.6 L142.2 467.3 L143.3 466.0 L144.6 464.8 L145.9 463.5 L147.4 462.3 L148.9 461.2 L150.6 460.1 L152.3 459.1 L154.2 458.1 L156.2 457.1 L158.2 456.2 L160.3 455.4 L162.5 454.7 L164.8 454.0 L167.1 453.4 L169.4 452.8 L171.9 452.4 L174.3 451.9 L176.8 451.6 L179.3 451.3 L181.9 451.1 L184.4 451.0 L187.0 451.0 L189.6 451.0 L192.1 451.1 L194.7 451.3 L197.2 451.6 L199.7 451.9 L202.1 452.4 L204.6 452.8 L206.9 453.4 L209.2 454.0 L211.5 454.7 L213.7 455.4 L215.8 456.2 L217.8 457.1 L219.8 458.1 L221.7 459.1 L223.4 460.1 L225.1 461.2 L226.6 462.3 L228.1 463.5 L229.4 464.8 L230.7 466.0 L231.8 467.3 L232.8 468.6 L233.6 470.0 L234.3 471.4 L234.9 472.8 L235.4 474.2 L235.7 475.6 L235.9 477.1 L236.0 478.5 L236.3 516.0 L236.2 517.5 L236.0 518.9 L235.7 520.4 L235.2 521.8 L234.6 523.2 L233.9 524.6 L233.0 526.0 L232.0 527.4 L230.9 528.7 L229.7 530.0 L228.3 531.2 L226.9 532.5 L225.3 533.6 L223.6 534.7 L221.9 535.8 L220.0 536.8 L218.0 537.8 L216.0 538.6 L213.8 539.5 L211.7 540.2 L209.4 541.0 L207.1 541.6 L204.7 542.1 L202.2 542.6 L199.8 543.0 L197.2 543.4 L194.7 543.7 L192.2 543.9 L189.6 544.0 L187.0 544.0 L184.4 544.0 L181.8 543.9 L179.3 543.7 L176.8 543.4 L174.2 543.0 L171.8 542.6 L169.3 542.1 L166.9 541.6 L164.6 541.0 L162.3 540.2 L160.2 539.5 L158.0 538.6 L156.0 537.8 L154.0 536.8 L152.1 535.8 L150.4 534.7 L148.7 533.6 L147.1 532.5 L145.7 531.2 L144.3 530.0 L143.1 528.7 L142.0 527.4 L141.0 526.0 L140.1 524.6 L139.4 523.2 L138.8 521.8 L138.3 520.4 L138.0 518.9 L137.8 517.5 Z" fill="#fff"/><path d="M236.3 506.0 Q236.7 513.4 235.6 520.9 M235.9 508.6 Q236.0 516.1 234.5 523.5 M235.0 511.3 Q234.8 518.7 232.9 526.1 M233.6 513.9 Q233.1 521.3 231.0 528.7 M231.9 516.4 Q231.0 523.7 228.6 531.0 M229.6 518.8 Q228.5 526.0 225.8 533.3 M227.0 521.1 Q225.6 528.2 222.6 535.4 M224.0 523.2 Q222.3 530.2 219.1 537.3 M220.6 525.1 Q218.7 532.0 215.3 538.9 M216.9 526.9 Q214.9 533.6 211.2 540.4 M212.9 528.4 Q210.7 535.0 206.9 541.6 M208.7 529.7 Q206.3 536.2 202.3 542.6 M204.3 530.8 Q201.8 537.0 197.7 543.3 M199.7 531.6 Q197.1 537.7 192.9 543.8 M194.9 532.1 Q192.3 538.1 188.1 544.0 M190.1 532.4 Q187.5 538.2 183.2 543.9 M185.3 532.5 Q182.7 538.0 178.4 543.6 M180.5 532.3 Q177.9 537.6 173.7 543.0 M175.7 531.8 Q173.2 536.9 169.1 542.1 M171.1 531.0 Q168.7 536.0 164.7 541.0 M166.6 530.0 Q164.3 534.8 160.5 539.6 M162.3 528.8 Q160.2 533.4 156.6 538.0 M158.2 527.3 Q156.4 531.8 152.9 536.2 M154.4 525.6 Q152.8 529.9 149.6 534.2 M150.9 523.8 Q149.6 527.9 146.6 532.1 M147.8 521.7 Q146.7 525.7 144.0 529.7 M145.1 519.5 Q144.3 523.4 141.9 527.3 M142.7 517.1 Q142.2 520.9 140.1 524.7 M140.8 514.6 Q140.6 518.3 138.9 522.1 M139.4 512.1 Q139.5 515.7 138.1 519.4 M138.3 509.4 Q138.8 513.0 137.7 516.6 M137.8 506.7 Q138.6 510.3 137.8 513.9 M137.7 504.0 Q138.7 508.6 138.0 513.1" stroke-width="0.55"/><path d="M236.3 505.0 L236.2 506.4 L236.0 507.9 L235.7 509.3 L235.2 510.7 L234.6 512.1 L233.9 513.5 L233.0 514.9 L232.0 516.2 L230.9 517.5 L229.7 518.8 L228.3 520.0 L226.9 521.2 L225.3 522.3 L223.6 523.4 L221.9 524.4 L220.0 525.4 L218.0 526.4 L216.0 527.2 L213.9 528.1 L211.7 528.8 L209.4 529.5 L207.1 530.1 L204.7 530.7 L202.2 531.2 L199.8 531.6 L197.3 531.9 L194.7 532.2 L192.2 532.3 L189.6 532.5 L187.0 532.5 L184.4 532.5 L181.8 532.3 L179.3 532.2 L176.7 531.9 L174.2 531.6 L171.8 531.2 L169.3 530.7 L166.9 530.1 L164.6 529.5 L162.4 528.8 L160.1 528.1 L158.0 527.2 L156.0 526.4 L154.0 525.4 L152.1 524.4 L150.4 523.4 L148.7 522.3 L147.1 521.2 L145.7 520.0 L144.3 518.8 L143.1 517.5 L142.0 516.2 L141.0 514.9 L140.1 513.5 L139.4 512.1 L138.8 510.7 L138.3 509.3 L138.0 507.9 L137.8 506.4 L137.7 505.0" stroke-width="0.45"/><path d="M235.6 516.0 L236.3 516.8 L236.2 517.5 L235.4 518.3 L236.0 519.1 L235.8 519.8 L234.9 520.5 L235.4 521.4 L235.1 522.1 L234.1 522.8 L234.4 523.7 L234.1 524.3 L232.9 525.0 L233.1 525.9 L232.7 526.5 L231.5 527.1 L231.6 528.0 L231.0 528.6 L229.7 529.1 L229.7 530.0 L229.0 530.6 L227.7 531.1 L227.5 532.0 L226.8 532.6 L225.3 532.9 L225.0 533.8 L224.2 534.4 L222.7 534.7 L222.3 535.6 L221.4 536.0 L219.9 536.3 L219.3 537.1 L218.4 537.6 L216.8 537.8 L216.1 538.6 L215.1 539.0 L213.6 539.1 L212.8 539.9 L211.7 540.2 L210.1 540.3 L209.2 541.0 L208.1 541.3 L206.5 541.3 L205.5 542.0 L204.4 542.2 L202.8 542.1 L201.7 542.7 L200.5 542.9 L198.9 542.7 L197.7 543.3 L196.5 543.5 L195.0 543.2 L193.7 543.7 L192.5 543.8 L191.0 543.5 L189.6 544.0 L188.4 544.0 L187.0 543.6 L185.6 544.0 L184.4 544.0 L183.0 543.5 L181.5 543.8 L180.3 543.7 L179.0 543.2 L177.5 543.5 L176.3 543.3 L175.1 542.7 L173.5 542.9 L172.3 542.7 L171.2 542.1 L169.6 542.2 L168.5 542.0 L167.5 541.3 L165.9 541.3 L164.8 541.0 L163.9 540.3 L162.3 540.2 L161.2 539.9 L160.4 539.1 L158.9 539.0 L157.9 538.6 L157.2 537.8 L155.6 537.6 L154.7 537.1 L154.1 536.3 L152.6 536.0 L151.7 535.6 L151.3 534.7 L149.8 534.4 L149.0 533.8 L148.7 532.9 L147.2 532.6 L146.5 532.0 L146.3 531.1 L145.0 530.6 L144.3 530.0 L144.3 529.1 L143.0 528.6 L142.4 528.0 L142.5 527.1 L141.3 526.5 L140.9 525.9 L141.1 525.0 L139.9 524.3 L139.6 523.7 L139.9 522.8 L138.9 522.1 L138.6 521.4 L139.1 520.5 L138.2 519.8 L138.0 519.1 L138.6 518.3 L137.8 517.5 L137.7 516.8 L138.4 516.0" stroke-width="0.4"/><path d="M147.5 505 v6" stroke-width="0.7" stroke-dasharray="0.7 1.1"/><path d="M164 511 v6" stroke-width="0.7" stroke-dasharray="0.7 1.1"/><path d="M183 514 v6" stroke-width="0.7" stroke-dasharray="0.7 1.1"/><path d="M206 513 v6" stroke-width="0.7" stroke-dasharray="0.7 1.1"/><path d="M225 507 v6" stroke-width="0.7" stroke-dasharray="0.7 1.1"/><path d="M140 494 v6" stroke-width="0.7" stroke-dasharray="0.7 1.1"/><path d="M233 494 v6" stroke-width="0.7" stroke-dasharray="0.7 1.1"/><ellipse cx="187.0" cy="478.5" rx="49.0" ry="27.5" transform="rotate(0 187.0 478.5)" fill="#fff"/><ellipse cx="187.0" cy="479.0" rx="45.5" ry="24.5" transform="rotate(0 187.0 479.0)" stroke-width="0.45"/><path d="M236.0 478.5 L232.5 479.0 M235.9 480.4 L232.4 480.7 M235.5 482.3 L232.1 482.4 M234.9 484.2 L231.5 484.1 M234.1 486.1 L230.7 485.8 M233.0 487.9 L229.8 487.4 M231.8 489.7 L228.6 489.0 M230.3 491.4 L227.2 490.5 M228.6 493.1 L225.6 492.0 M226.6 494.7 L223.8 493.4 M224.5 496.2 L221.9 494.7 M222.2 497.6 L219.7 496.0 M219.8 498.9 L217.4 497.2 M217.2 500.2 L215.0 498.3 M214.4 501.3 L212.4 499.3 M211.5 502.3 L209.8 500.2 M208.5 503.2 L206.9 501.0 M205.4 504.0 L204.0 501.7 M202.1 504.7 L201.1 502.3 M198.9 505.2 L198.0 502.8 M195.5 505.6 L194.9 503.1 M192.1 505.8 L191.8 503.4 M188.7 506.0 L188.6 503.5 M185.3 506.0 L185.4 503.5 M181.9 505.8 L182.2 503.4 M178.5 505.6 L179.1 503.1 M175.1 505.2 L176.0 502.8 M171.9 504.7 L172.9 502.3 M168.6 504.0 L170.0 501.7 M165.5 503.2 L167.1 501.0 M162.5 502.3 L164.2 500.2 M159.6 501.3 L161.6 499.3 M156.8 500.2 L159.0 498.3 M154.2 498.9 L156.6 497.2 M151.8 497.6 L154.3 496.0 M149.5 496.2 L152.1 494.7 M147.4 494.7 L150.2 493.4 M145.4 493.1 L148.4 492.0 M143.7 491.4 L146.8 490.5 M142.2 489.7 L145.4 489.0 M141.0 487.9 L144.2 487.4 M139.9 486.1 L143.3 485.8 M139.1 484.2 L142.5 484.1 M138.5 482.3 L141.9 482.4 M138.1 480.4 L141.6 480.7 M138.0 478.5 L141.5 479.0 M138.1 476.6 L141.6 477.3 M138.5 474.7 L141.9 475.6 M139.1 472.8 L142.5 473.9 M139.9 470.9 L143.3 472.2 M141.0 469.1 L144.2 470.6 M142.2 467.3 L145.4 469.0 M143.7 465.6 L146.8 467.5 M145.4 463.9 L148.4 466.0 M147.4 462.3 L150.2 464.6 M149.5 460.8 L152.1 463.3 M151.8 459.4 L154.3 462.0 M154.2 458.1 L156.6 460.8 M156.8 456.8 L159.0 459.7 M159.6 455.7 L161.6 458.7 M162.5 454.7 L164.2 457.8 M165.5 453.8 L167.1 457.0 M168.6 453.0 L170.0 456.3 M171.9 452.3 L172.9 455.7 M175.1 451.8 L176.0 455.2 M178.5 451.4 L179.1 454.9 M181.9 451.2 L182.2 454.6 M185.3 451.0 L185.4 454.5 M188.7 451.0 L188.6 454.5 M192.1 451.2 L191.8 454.6 M195.5 451.4 L194.9 454.9 M198.9 451.8 L198.0 455.2 M202.1 452.3 L201.1 455.7 M205.4 453.0 L204.0 456.3 M208.5 453.8 L206.9 457.0 M211.5 454.7 L209.8 457.8 M214.4 455.7 L212.4 458.7 M217.2 456.8 L215.0 459.7 M219.8 458.1 L217.4 460.8 M222.2 459.4 L219.7 462.0 M224.5 460.8 L221.9 463.3 M226.6 462.3 L223.8 464.6 M228.6 463.9 L225.6 466.0 M230.3 465.6 L227.2 467.5 M231.8 467.3 L228.6 469.0 M233.0 469.1 L229.8 470.6 M234.1 470.9 L230.7 472.2 M234.9 472.8 L231.5 473.9 M235.5 474.7 L232.1 475.6 M235.9 476.6 L232.4 477.3 M236.0 478.5 L232.5 479.0" stroke-width="0.3"/><path d="M143.0 472.8 L143.0 483.2 M145.2 469.3 L145.2 486.7 M147.4 466.9 L147.4 488.2 M149.6 465.0 L149.6 485.6 M151.8 463.5 L151.8 484.1 M154.0 462.1 L154.0 482.9 M156.2 461.0 L156.2 482.0 M158.4 459.9 L158.4 481.3 M160.6 459.0 L160.6 480.6 M162.8 458.3 L162.8 480.0 M165.0 457.6 L165.0 479.6 M167.2 456.9 L167.2 479.1 M169.4 456.4 L169.4 478.8 M171.6 455.9 L171.6 478.5 M173.8 455.6 L173.8 478.2 M176.0 455.2 L176.0 478.0 M178.2 455.0 L178.2 477.8 M180.4 454.8 L180.4 477.7 M182.6 454.6 L182.6 477.6 M184.8 454.5 L184.8 477.5 M187.0 454.5 L187.0 477.5 M189.2 454.5 L189.2 477.5 M191.4 454.6 L191.4 477.6 M193.6 454.8 L193.6 477.7 M195.8 455.0 L195.8 477.8 M198.0 455.2 L198.0 478.0 M200.2 455.6 L200.2 478.2 M202.4 455.9 L202.4 478.5 M204.6 456.4 L204.6 478.8 M206.8 456.9 L206.8 479.1 M209.0 457.6 L209.0 479.6 M211.2 458.3 L211.2 480.0 M213.4 459.0 L213.4 480.6 M215.6 459.9 L215.6 481.3 M217.8 461.0 L217.8 482.0 M220.0 462.1 L220.0 482.9 M222.2 463.5 L222.2 484.1 M224.4 465.0 L224.4 485.6 M226.6 466.9 L226.6 488.2 M228.8 469.3 L228.8 486.7 M231.0 472.8 L231.0 483.2" stroke-width="0.5"/><path d="M232.1 482.4 L230.1 482.9 L229.9 483.4 L231.5 484.1 L229.5 484.5 L229.2 485.0 L230.7 485.8 L228.6 486.1 L228.3 486.6 L229.7 487.5 L227.6 487.7 L227.2 488.2 L228.4 489.1 L226.3 489.2 L225.9 489.7 L227.0 490.7 L224.9 490.7 L224.4 491.2 L225.3 492.2 L223.2 492.2 L222.7 492.6 L223.5 493.6 L221.4 493.5 L220.8 493.9 L221.4 495.0 L219.3 494.8 L218.7 495.2 L219.2 496.3 L217.2 496.0 L216.5 496.4 L216.9 497.5 L214.8 497.1 L214.1 497.4 L214.3 498.6 L212.3 498.2 L211.6 498.4 L211.6 499.6 L209.7 499.1 L208.9 499.3 L208.9 500.5 L207.0 499.9 L206.2 500.1 L205.9 501.3 L204.2 500.6 L203.3 500.8 L202.9 501.9 L201.3 501.2 L200.4 501.4 L199.8 502.5 L198.3 501.7 L197.4 501.8 L196.7 502.9 L195.2 502.1 L194.3 502.2 L193.5 503.2 L192.1 502.4 L191.2 502.4 L190.3 503.4 L189.0 502.5 L188.1 502.5 L187.0 503.5 L185.9 502.5 L185.0 502.5 L183.7 503.4 L182.8 502.4 L181.9 502.4 L180.5 503.2 L179.7 502.2 L178.8 502.1 L177.3 502.9 L176.6 501.8 L175.7 501.7 L174.2 502.5 L173.6 501.4 L172.7 501.2 L171.1 501.9 L170.7 500.8 L169.8 500.6 L168.1 501.3 L167.8 500.1 L167.0 499.9 L165.1 500.5 L165.1 499.3 L164.3 499.1 L162.4 499.6 L162.4 498.4 L161.7 498.2 L159.7 498.6 L159.9 497.4 L159.2 497.1 L157.1 497.5 L157.5 496.4 L156.8 496.0 L154.8 496.3 L155.3 495.2 L154.7 494.8 L152.6 495.0 L153.2 493.9 L152.6 493.5 L150.5 493.6 L151.3 492.6 L150.8 492.2 L148.7 492.2 L149.6 491.2 L149.1 490.7 L147.0 490.7 L148.1 489.7 L147.7 489.2 L145.6 489.1 L146.8 488.2 L146.4 487.7 L144.3 487.5 L145.7 486.6 L145.4 486.1 L143.3 485.8 L144.8 485.0 L144.5 484.5 L142.5 484.1 L144.1 483.4 L143.9 482.9 L141.9 482.4" stroke-width="0.4"/><ellipse cx="186.7" cy="491.6" rx="32.0" ry="14.2" transform="rotate(0 186.7 491.6)" stroke-width="0.5"/><path d="M144.0 490.0 L144.1 489.3 L144.2 488.6 L144.5 487.9 L144.9 487.2 L145.5 486.5 L146.1 485.8 L146.9 485.2 L147.7 484.5 L148.7 483.9 L149.8 483.2 L150.9 482.6 L152.2 482.1 L153.6 481.5 L155.0 481.0 L156.6 480.5 L158.2 480.0 L159.9 479.5 L161.7 479.1 L163.6 478.7 L165.5 478.3 L167.5 478.0 L169.5 477.7 L171.6 477.4 L173.7 477.2 L175.9 477.0 L178.1 476.8 L180.3 476.7 L182.5 476.6 L184.7 476.5 L187.0 476.5 L189.3 476.5 L191.5 476.6 L193.7 476.7 L195.9 476.8 L198.1 477.0 L200.3 477.2 L202.4 477.4 L204.5 477.7 L206.5 478.0 L208.5 478.3 L210.4 478.7 L212.3 479.1 L214.1 479.5 L215.8 480.0 L217.4 480.5 L219.0 481.0 L220.4 481.5 L221.8 482.1 L223.1 482.6 L224.2 483.2 L225.3 483.9 L226.3 484.5 L227.1 485.2 L227.9 485.8 L228.5 486.5 L229.1 487.2 L229.5 487.9 L229.8 488.6 L229.9 489.3 L230.0 490.0" stroke-width="0.4"/><ellipse cx="169" cy="492.4" rx="2.6" ry="1.4" fill="#a7a9ac" stroke="#808285" stroke-width="0.3"/><ellipse cx="167.4" cy="498.7" rx="2.6" ry="1.4" fill="#a7a9ac" stroke="#808285" stroke-width="0.3"/><ellipse cx="204.5" cy="492.4" rx="2.6" ry="1.4" fill="#a7a9ac" stroke="#808285" stroke-width="0.3"/><ellipse cx="206.9" cy="498.7" rx="2.6" ry="1.4" fill="#a7a9ac" stroke="#808285" stroke-width="0.3"/><circle cx="168.2" cy="488" r="0.9" stroke-width="0.35"/><circle cx="205.5" cy="488" r="0.9" stroke-width="0.35"/><path d="M172 486 V500 A14.5 6 0 0 0 201 500 V486" fill="#fff"/><ellipse cx="186.4" cy="486.0" rx="14.5" ry="6.5" transform="rotate(0 186.4 486.0)" fill="#fff"/><ellipse cx="186.4" cy="486.2" rx="11.0" ry="4.6" transform="rotate(0 186.4 486.2)" stroke-width="0.5"/><path d="M186.5 444 V487" stroke-width="0.6"/></g><rect x="183.3" y="411.9" width="6.4" height="9.6" rx="1.8" fill="#a3a3a3" stroke="#888" stroke-width="0.4"/><rect x="184.7" y="415.2" width="3.6" height="4.5" rx="1" fill="#cfcfcf"/><rect x="184.7" y="413.7" width="3.6" height="1.2" fill="#777"/><rect x="172.9" y="413.5" width="6.4" height="9.6" rx="1.8" fill="#a3a3a3" stroke="#888" stroke-width="0.4"/><rect x="174.3" y="416.8" width="3.6" height="4.5" rx="1" fill="#cfcfcf"/><rect x="174.3" y="415.3" width="3.6" height="1.2" fill="#777"/><rect x="193.2" y="413.5" width="6.4" height="9.6" rx="1.8" fill="#a3a3a3" stroke="#888" stroke-width="0.4"/><rect x="194.6" y="416.8" width="3.6" height="4.5" rx="1" fill="#cfcfcf"/><rect x="194.6" y="415.3" width="3.6" height="1.2" fill="#777"/><rect x="165.9" y="416.8" width="6.4" height="9.6" rx="1.8" fill="#a3a3a3" stroke="#888" stroke-width="0.4"/><rect x="167.3" y="420.1" width="3.6" height="4.5" rx="1" fill="#cfcfcf"/><rect x="167.3" y="418.6" width="3.6" height="1.2" fill="#777"/><rect x="200.6" y="416.8" width="6.4" height="9.6" rx="1.8" fill="#a3a3a3" stroke="#888" stroke-width="0.4"/><rect x="202.0" y="420.1" width="3.6" height="4.5" rx="1" fill="#cfcfcf"/><rect x="202.0" y="418.6" width="3.6" height="1.2" fill="#777"/><rect x="163.4" y="422.6" width="6.4" height="9.6" rx="1.8" fill="#a3a3a3" stroke="#888" stroke-width="0.4"/><rect x="164.8" y="425.9" width="3.6" height="4.5" rx="1" fill="#cfcfcf"/><rect x="164.8" y="424.4" width="3.6" height="1.2" fill="#777"/><rect x="203.1" y="422.6" width="6.4" height="9.6" rx="1.8" fill="#a3a3a3" stroke="#888" stroke-width="0.4"/><rect x="204.5" y="425.9" width="3.6" height="4.5" rx="1" fill="#cfcfcf"/><rect x="204.5" y="424.4" width="3.6" height="1.2" fill="#777"/><rect x="165.5" y="429.2" width="6.4" height="9.6" rx="1.8" fill="#a3a3a3" stroke="#888" stroke-width="0.4"/><rect x="166.9" y="432.5" width="3.6" height="4.5" rx="1" fill="#cfcfcf"/><rect x="166.9" y="431.0" width="3.6" height="1.2" fill="#777"/><rect x="200.6" y="429.2" width="6.4" height="9.6" rx="1.8" fill="#a3a3a3" stroke="#888" stroke-width="0.4"/><rect x="202.0" y="432.5" width="3.6" height="4.5" rx="1" fill="#cfcfcf"/><rect x="202.0" y="431.0" width="3.6" height="1.2" fill="#777"/><rect x="172.9" y="433.4" width="6.4" height="9.6" rx="1.8" fill="#a3a3a3" stroke="#888" stroke-width="0.4"/><rect x="174.3" y="436.7" width="3.6" height="4.5" rx="1" fill="#cfcfcf"/><rect x="174.3" y="435.2" width="3.6" height="1.2" fill="#777"/><rect x="192.8" y="433.4" width="6.4" height="9.6" rx="1.8" fill="#a3a3a3" stroke="#888" stroke-width="0.4"/><rect x="194.2" y="436.7" width="3.6" height="4.5" rx="1" fill="#cfcfcf"/><rect x="194.2" y="435.2" width="3.6" height="1.2" fill="#777"/><rect x="183.3" y="435.0" width="6.4" height="9.6" rx="1.8" fill="#a3a3a3" stroke="#888" stroke-width="0.4"/><rect x="184.7" y="438.3" width="3.6" height="4.5" rx="1" fill="#cfcfcf"/><rect x="184.7" y="436.8" width="3.6" height="1.2" fill="#777"/><path d="M226.9 412.6 L214.8 421.5" stroke="#231f20" stroke-width="1.3" fill="none"/><path d="M209.6 425.3 L213.8 418.4 L217.5 423.4 Z" fill="#231f20"/><path d="M125.9 450.5 L158.6 472.8" stroke="#231f20" stroke-width="1.3" fill="none"/><path d="M164.0 476.5 L156.1 474.8 L159.6 469.7 Z" fill="#231f20"/><path d="M271.9 449.5 L242.4 472.5" stroke="#231f20" stroke-width="1.3" fill="none"/><path d="M237.3 476.5 L241.3 469.4 L245.1 474.3 Z" fill="#231f20"/><g stroke="#333" fill="none" stroke-width="0.6" stroke-linejoin="round" stroke-linecap="round"><path d="M475.1 414.7 L475.1 412.4 L475.3 410.1 L475.6 407.9 L475.9 405.8 L476.4 403.8 L476.9 401.8 L477.5 399.9 L478.2 398.1 L479.0 396.3 L479.9 394.7 L480.8 393.2 L481.8 391.8 L482.9 390.5 L484.0 389.3 L485.2 388.2 L486.5 387.2 L487.8 386.4 L489.2 385.7 L490.6 385.1 L492.1 384.6 L493.6 384.3 L495.1 384.1 L496.7 384.0 L498.4 384.1 L500.0 384.2 L501.7 384.6 L513.7 387.1 L515.3 387.5 L517.0 388.1 L518.7 388.8 L520.4 389.6 L522.1 390.5 L523.8 391.6 L525.5 392.8 L527.1 394.0 L528.8 395.4 L530.4 396.9 L532.0 398.6 L533.5 400.3 L535.1 402.1 L536.5 403.9 L538.0 405.9 L539.3 407.9 L540.6 410.1 L541.9 412.2 L543.1 414.5 L544.2 416.8 L545.3 419.1 L546.3 421.5 L547.2 423.9 L548.1 426.4 L548.8 428.8 L549.5 431.3 L550.1 433.8 L550.6 436.3 L551.1 438.8 L551.4 441.2 L551.7 443.7 L551.9 446.1 L552.0 448.5 L552.0 450.8 L551.9 453.1 L551.7 455.4 L551.4 457.6 L551.0 459.7 L550.6 461.8 L550.1 463.7 L549.5 465.6 L548.8 467.4 L548.0 469.2 L547.1 470.8 L546.2 472.3 L545.2 473.7 L544.1 475.0 L543.0 476.2 L541.8 477.3 L540.5 478.3 L539.2 479.1 L537.8 479.8 L536.4 480.4 L534.9 480.9 L533.4 481.2 L531.9 481.4 L530.3 481.5 L528.6 481.4 L527.0 481.3 L525.3 480.9 L513.3 478.4 L511.7 478.0 L510.0 477.4 L508.3 476.8 L506.6 475.9 L504.9 475.0 L503.2 473.9 L501.5 472.8 L499.9 471.5 L498.2 470.1 L496.6 468.6 L495.0 466.9 L493.4 465.2 L491.9 463.4 L490.5 461.6 L489.1 459.6 L487.7 457.6 L486.4 455.4 L485.1 453.3 L483.9 451.0 L482.8 448.7 L481.7 446.4 L480.7 444.0 L479.8 441.6 L478.9 439.1 L478.2 436.7 L477.5 434.2 L476.9 431.7 L476.4 429.2 L475.9 426.8 L475.6 424.3 L475.3 421.8 L475.1 419.4 L475.1 417.0 Z" fill="#fff" stroke="none"/><path d="M493.7 397.9 L493.2 395.1 L493.8 394.2 L495.7 395.1 L495.4 392.4 L496.1 391.7 L498.0 392.8 L497.9 390.1 L498.7 389.6 L500.6 391.0 L500.7 388.4 L501.6 388.0 L503.4 389.7 L503.7 387.2 L504.6 387.0 L506.3 388.9 L506.9 386.6 L507.8 386.5 L509.5 388.6 L510.2 386.5 L511.2 386.6 L512.7 388.9 L513.6 387.0 L514.7 387.3 L516.1 389.7 L517.1 388.1 L518.2 388.5 L519.4 391.1 L520.7 389.7 L521.7 390.3 L522.8 393.0 L524.2 391.8 L525.2 392.6 L526.2 395.3 L527.7 394.5 L528.7 395.3 L529.4 398.1 L531.0 397.6 L532.0 398.6 L532.5 401.4 L534.3 401.1 L535.2 402.2 L535.5 405.0 L537.3 405.0 L538.2 406.3 L538.3 409.0 L540.2 409.3 L541.0 410.6 L540.9 413.2 L542.8 413.9 L543.5 415.3 L543.2 417.7 L545.1 418.7 L545.7 420.2 L545.2 422.4 L547.1 423.7 L547.7 425.2 L547.0 427.3 L548.8 428.8 L549.3 430.3 L548.4 432.2 L550.2 433.9 L550.5 435.5 L549.4 437.2 L551.1 439.1 L551.4 440.7 L550.1 442.1 L551.7 444.2 L551.9 445.7 L550.5 446.9 L552.0 449.2 L552.0 450.7 L550.4 451.5 L551.8 454.0 L551.7 455.4 L550.0 456.0 L551.2 458.6 L551.0 459.9 L549.3 460.2 L550.3 462.9 L550.0 464.1 L548.2 464.1 L549.0 466.8 L548.6 467.9 L546.7 467.6 L547.4 470.4 L546.8 471.3 L544.9 470.7 L545.4 473.5 L544.7 474.3 L542.8 473.4 L543.1 476.1 L542.4 476.8 L540.5 475.6 L540.6 478.3 L539.7 478.8 L537.9 477.3" stroke-width="0.45"/><path d="M482.6 390.7 L494.6 393.2 M485.0 388.3 L497.0 390.8 M487.7 386.4 L499.7 388.9 M490.6 385.1 L502.6 387.6 M493.7 384.3 L505.7 386.8 M497.0 384.0 L509.0 386.5 M500.3 384.3 L512.3 386.8 M503.8 385.1 L515.8 387.6 M507.3 386.5 L519.3 389.0 M510.8 388.4 L522.8 390.9 M514.3 390.9 L526.3 393.4 M517.7 393.8 L529.7 396.3 M521.0 397.1 L533.0 399.6 M524.1 400.8 L536.1 403.3 M527.0 404.9 L539.0 407.4 M529.7 409.4 L541.7 411.9 M532.1 414.0 L544.1 416.5 M534.3 418.9 L546.3 421.4 M536.1 423.9 L548.1 426.4 M537.6 429.1 L549.6 431.6 M538.7 434.2 L550.7 436.7 M539.5 439.3 L551.5 441.8 M539.9 444.3 L551.9 446.8 M539.9 449.2 L551.9 451.7 M539.6 453.9 L551.6 456.4 M538.8 458.3 L550.8 460.8 M537.7 462.3 L549.7 464.8 M536.3 466.1 L548.3 468.6 M534.5 469.4 L546.5 471.9 M532.4 472.3 L544.4 474.8 M530.0 474.7 L542.0 477.2 M527.3 476.6 L539.3 479.1" stroke-width="0.5"/><path d="M534.0 421.9 L535.8 423.2 L536.3 424.7 L535.6 426.7 L537.4 428.3 L537.8 429.8 L536.8 431.6 L538.6 433.4 L538.9 435.0 L537.7 436.5 L539.4 438.5 L539.6 440.1 L538.3 441.4 L539.9 443.6 L539.9 445.1 L538.5 446.1 L539.9 448.5 L539.9 449.9 L538.3 450.7 L539.6 453.2 L539.5 454.5 L537.8 455.0 L539.0 457.6 L538.7 458.9 L536.9 459.1 L537.9 461.8 L537.5 462.9 L535.7 462.8 L536.5 465.5 L536.0 466.6 L534.2 466.2 L534.8 468.9 L534.2 469.9 L532.3 469.1 L532.7 471.9 L532.0 472.7 L530.1 471.6 L530.3 474.3 L529.6 475.0 L527.7 473.7 L527.7 476.3 L526.9 476.8 L525.0 475.2 L524.8 477.8 L523.9 478.1 L522.2 476.3 L521.8 478.7 L520.8 478.8 L519.1 476.8 L518.5 479.0 L517.5 479.0 L516.0 476.8 L515.2 478.8 L514.1 478.6 L512.7 476.2 L511.7 478.0 L510.7 477.7 L509.4 475.2 L508.2 476.7 L507.2 476.2 L506.0 473.6 L504.7 474.9 L503.7 474.2 L502.7 471.5 L501.2 472.5 L500.2 471.7 L499.4 469.0 L497.8 469.7 L496.8 468.8 L496.2 466.0 L494.5 466.4 L493.6 465.4 L493.1 462.6 L491.4 462.7 L490.5 461.6 L490.2 458.9 L488.4 458.7 L487.6 457.4 L487.6 454.8 L485.7 454.3 L484.9 453.0 L485.1 450.4 L483.2 449.7 L482.5 448.2 L482.9 445.9 L481.0 444.8 L480.4 443.3 L481.0 441.1 L479.2 439.8 L478.7 438.3 L479.4 436.3 L477.6 434.7 L477.2 433.2 L478.2 431.4 L476.4 429.6 L476.1 428.0 L477.3 426.5 L475.6 424.5 L475.4 422.9 L476.7 421.6 L475.1 419.4 L475.1 417.9 L476.5 416.9 L475.1 414.5 L475.1 413.1 L476.7 412.3 L475.4 409.8 L475.5 408.5 L477.2 408.0 L476.0 405.4 L476.3 404.1 L478.1 403.9 L477.1 401.2 L477.5 400.1 L479.3 400.2 L478.5 397.5 L479.0 396.4 L480.8 396.8 L480.2 394.1 L480.8 393.1 L482.7 393.9 L482.3 391.1 L483.0 390.3 L484.9 391.4 L484.7 388.7 L485.4 388.0 L487.3 389.3 L487.3 386.7 L488.1 386.2 L490.0 387.8 L490.2 385.2 L491.1 384.9 L492.8 386.7 L493.2 384.3 L494.2 384.2 L495.9 386.2 L496.5 384.0 L497.5 384.0 L499.0 386.2 L499.8 384.2 L500.9 384.4 L502.3 386.8 L503.3 385.0 L504.3 385.3 L505.6 387.8 L506.8 386.3 L507.8 386.8 L509.0 389.4 L510.3 388.1 L511.3 388.8 L512.3 391.5 L513.8 390.5 L514.8 391.3 L515.6 394.0 L517.2 393.3 L518.2 394.2 L518.8 397.0 L520.5 396.6 L521.4 397.6 L521.9 400.4 L523.6 400.3 L524.5 401.4 L524.8 404.1 L526.6 404.3 L527.4 405.6 L527.4 408.2 L529.3 408.7 L530.1 410.0 L529.9 412.6 L531.8 413.3 L532.5 414.8 L532.1 417.1 L534.0 418.2 L534.6 419.7 L534.0 421.9 Z" fill="#fff" stroke-width="0.45"/><ellipse cx="508.5" cy="432.0" rx="25.5" ry="44.0" transform="rotate(-20 508.5 432.0)" stroke-width="0.5"/><g stroke="#231f20" fill="none" stroke-width="0.5" stroke-linejoin="round" stroke-linecap="round"><circle cx="525.0" cy="466.0" r="1.9"/><circle cx="519.6" cy="468.3" r="1.9"/><circle cx="513.2" cy="467.8" r="1.9"/><circle cx="506.6" cy="464.4" r="1.9"/><circle cx="500.1" cy="458.4" r="1.9"/><circle cx="494.3" cy="450.3" r="1.9"/><circle cx="489.8" cy="440.8" r="1.9"/><circle cx="486.8" cy="430.6" r="1.9"/><circle cx="485.6" cy="420.5" r="1.9"/><circle cx="486.3" cy="411.5" r="1.9"/><circle cx="488.8" cy="404.1" r="1.9"/><circle cx="493.0" cy="399.0" r="1.9"/><circle cx="498.4" cy="396.7" r="1.9"/><circle cx="504.8" cy="397.2" r="1.9"/><circle cx="511.4" cy="400.6" r="1.9"/><circle cx="517.9" cy="406.6" r="1.9"/><circle cx="523.7" cy="414.7" r="1.9"/><circle cx="528.2" cy="424.2" r="1.9"/><circle cx="531.2" cy="434.4" r="1.9"/><circle cx="532.4" cy="444.5" r="1.9"/><circle cx="531.7" cy="453.5" r="1.9"/><circle cx="529.2" cy="460.9" r="1.9"/></g><ellipse cx="513.0" cy="431.0" rx="23.0" ry="40.0" transform="rotate(-20 513.0 431.0)" stroke-width="0.45"/><ellipse cx="517.3" cy="429.5" rx="20.4" ry="29.7" transform="rotate(-25 517.3 429.5)" fill="#fff" stroke-width="0.55"/><path d="M520.6 457.9 L519.5 457.8 L518.5 457.6 L517.4 457.4 L516.3 457.0 L515.2 456.6 L514.1 456.2 L513.1 455.6 L512.0 455.0 L510.9 454.3 L509.8 453.6 L508.8 452.7 L507.8 451.9 L506.8 450.9 L505.8 450.0 L504.8 448.9 L503.9 447.8 L503.0 446.7 L502.1 445.5 L501.3 444.3 L500.5 443.1 L499.7 441.8 L499.0 440.4 L498.4 439.1 L497.7 437.7 L497.2 436.4 L496.7 435.0 L496.2 433.5 L495.8 432.1 L495.4 430.7 L495.1 429.3 L494.8 427.9 L494.6 426.5 L494.5 425.1 L494.4 423.7 L494.4 422.3 L494.4 421.0 L494.5 419.7 L494.6 418.4 L494.8 417.2 L495.1 416.0 L495.4 414.8 L495.7 413.7 L496.1 412.6 L496.6 411.6 L497.1 410.7 L497.7 409.8 L498.3 408.9 L499.0 408.1 L499.7 407.4 L500.4 406.8 L501.2 406.2 L502.0 405.6 L502.9 405.2 L503.8 404.8 L504.7 404.5 L505.7 404.3 L506.7 404.1 L507.7 404.0 L508.7 404.0 L509.7 404.1 L510.8 404.2 L511.9 404.4 L513.0 404.7" stroke-width="0.45"/><path d="M523.5 384 L532.5 376.5 M525.3 386 L534.3 378.5 M523.5 384 L525.3 386" stroke-width="0.6"/><path d="M526 383.2 l1.3 1.5 M528 381.5 l1.3 1.5 M530 379.8 l1.3 1.5" stroke-width="0.4"/><circle cx="535" cy="376.3" r="2.7" fill="#fff"/><circle cx="535" cy="376.3" r="1.2"/><path d="M523 386 L517 389" stroke-width="0.4"/><path d="M488.5 477.5 L494.5 474 A1.7 1.7 0 0 1 496.2 477 L490.2 480.5 A1.7 1.7 0 0 1 488.5 477.5 Z" fill="#fff"/><path d="M496.5 475 L513 464" stroke-width="0.4"/><path d="M456.4 454.7 L456.5 454.1 L456.5 453.6 L456.6 453.0 L456.7 452.5 L456.8 452.0 L456.9 451.4 L457.1 451.0 L457.3 450.5 L457.5 450.0 L457.7 449.6 L457.9 449.2 L458.2 448.8 L458.5 448.4 L458.8 448.1 L459.1 447.8 L459.4 447.5 L459.8 447.3 L460.1 447.1 L460.5 446.9 L460.9 446.7 L466.9 444.7 L467.3 444.6 L467.7 444.5 L468.1 444.4 L468.6 444.4 L469.0 444.4 L469.4 444.4 L469.9 444.5 L470.3 444.6 L470.8 444.7 L471.2 444.9 L471.6 445.1 L472.1 445.3 L472.5 445.5 L473.0 445.8 L473.4 446.1 L473.8 446.4 L474.3 446.8 L474.7 447.2 L475.1 447.6 L475.5 448.0 L475.8 448.4 L476.2 448.9 L476.6 449.4 L476.9 449.9 L477.2 450.4 L477.5 451.0 L477.8 451.5 L478.1 452.1 L478.3 452.7 L478.5 453.3 L478.7 453.9 L478.9 454.5 L479.1 455.1 L479.2 455.7 L479.3 456.3 L479.4 456.9 L479.5 457.5 L479.5 458.1 L479.6 458.7 L479.6 459.3 L479.5 459.9 L479.5 460.4 L479.4 461.0 L479.3 461.5 L479.2 462.0 L479.1 462.6 L478.9 463.0 L478.7 463.5 L478.5 464.0 L478.3 464.4 L478.1 464.8 L477.8 465.2 L477.5 465.6 L477.2 465.9 L476.9 466.2 L476.6 466.5 L476.2 466.7 L475.9 466.9 L475.5 467.1 L475.1 467.3 L469.1 469.3 L468.7 469.4 L468.3 469.5 L467.9 469.6 L467.4 469.6 L467.0 469.6 L466.6 469.6 L466.1 469.5 L465.7 469.4 L465.2 469.3 L464.8 469.1 L464.4 468.9 L463.9 468.7 L463.5 468.5 L463.0 468.2 L462.6 467.9 L462.2 467.6 L461.7 467.2 L461.3 466.8 L460.9 466.4 L460.5 466.0 L460.2 465.6 L459.8 465.1 L459.4 464.6 L459.1 464.1 L458.8 463.6 L458.5 463.0 L458.2 462.5 L457.9 461.9 L457.7 461.3 L457.5 460.7 L457.3 460.1 L457.1 459.5 L456.9 458.9 L456.8 458.3 L456.7 457.7 L456.6 457.1 L456.5 456.5 L456.5 455.9 L456.4 455.3 Z" fill="#fff"/><path d="M387.1 475.2 L387.2 472.9 L387.3 470.7 L387.6 468.4 L387.9 466.3 L388.3 464.1 L388.8 462.1 L389.4 460.1 L390.1 458.1 L390.9 456.3 L391.8 454.5 L392.7 452.8 L393.8 451.2 L394.9 449.7 L396.0 448.2 L397.3 446.9 L398.6 445.7 L400.0 444.6 L401.4 443.6 L418.8 433.3 L420.3 432.4 L421.9 431.6 L423.6 430.9 L425.3 430.4 L427.0 429.9 L428.8 429.6 L430.6 429.5 L432.4 429.4 L434.3 429.5 L436.1 429.7 L438.0 430.1 L439.9 430.5 L441.8 431.1 L443.6 431.8 L445.5 432.7 L447.4 433.6 L449.2 434.7 L451.0 435.9 L452.8 437.2 L454.5 438.6 L456.2 440.1 L457.9 441.7 L459.5 443.4 L461.0 445.2 L462.5 447.0 L463.9 449.0 L465.3 451.0 L466.6 453.1 L467.8 455.2 L469.0 457.5 L470.1 459.7 L471.1 462.0 L471.9 464.4 L472.8 466.8 L473.5 469.1 L474.1 471.6 L474.7 474.0 L475.1 476.4 L475.5 478.9 L475.7 481.3 L475.9 483.7 L475.9 486.1 L475.9 488.5 L475.7 490.8 L475.5 493.1 L475.2 495.4 L474.7 497.5 L474.2 499.7 L473.6 501.7 L472.9 503.7 L472.1 505.7 L471.2 507.5 L470.2 509.2 L469.1 510.9 L468.0 512.5 L466.8 513.9 L465.5 515.3 L464.1 516.6 L462.7 517.7 L461.2 518.7 L459.7 519.6 L458.1 520.4 L456.4 521.1 L439.5 528.0 L437.9 528.7 L436.3 529.2 L434.6 529.6 L432.9 529.9 L431.1 530.1 L429.3 530.1 L427.5 530.0 L425.7 529.8 L423.9 529.5 L422.1 529.1 L420.3 528.5 L418.4 527.8 L416.6 527.0 L414.8 526.1 L413.1 525.0 L411.3 523.9 L409.6 522.6 L407.9 521.3 L406.3 519.8 L404.6 518.3 L403.1 516.6 L401.6 514.9 L400.1 513.1 L398.8 511.2 L397.4 509.2 L396.2 507.2 L395.0 505.1 L393.9 503.0 L392.8 500.8 L391.9 498.6 L391.0 496.3 L390.2 494.0 L389.5 491.7 L388.9 489.3 L388.4 487.0 L387.9 484.6 L387.6 482.2 L387.4 479.9 L387.2 477.5 Z" fill="#fff"/><path d="M413.3 436 l5 -2" stroke-width="0.55" stroke-dasharray="1.2 0.8"/><path d="M426.9 442 l5 -2" stroke-width="0.55" stroke-dasharray="1.2 0.8"/><path d="M441.2 453.3 l5 -2" stroke-width="0.55" stroke-dasharray="1.2 0.8"/><path d="M452.4 469.9 l5 -2" stroke-width="0.55" stroke-dasharray="1.2 0.8"/><path d="M460.7 488.7 l5 -2" stroke-width="0.55" stroke-dasharray="1.2 0.8"/><path d="M461.5 506 l5 -2" stroke-width="0.55" stroke-dasharray="1.2 0.8"/><path d="M456 520 l5 -2" stroke-width="0.55" stroke-dasharray="1.2 0.8"/><ellipse cx="422.0" cy="485.0" rx="33.0" ry="46.5" transform="rotate(-20 422.0 485.0)" fill="#fff"/><path d="M450.8 474.5 L452.1 475.2 L452.4 476.1 L451.8 477.4 L453.1 478.2 L453.3 479.1 L452.6 480.3 L453.9 481.2 L454.1 482.1 L453.3 483.2 L454.5 484.2 L454.7 485.1 L453.8 486.1 L455.0 487.2 L455.1 488.1 L454.2 489.0 L455.3 490.2 L455.4 491.1 L454.4 491.9 L455.4 493.2 L455.5 494.1 L454.4 494.8 L455.4 496.2 L455.4 497.0 L454.3 497.6 L455.3 499.0 L455.2 499.9 L454.0 500.4 L454.9 501.9 L454.8 502.7 L453.6 503.1 L454.4 504.6 L454.2 505.4 L453.0 505.7 L453.8 507.3 L453.5 508.0 L452.3 508.2 L453.0 509.8 L452.7 510.5 L451.4 510.6 L452.0 512.2 L451.7 512.9 L450.4 512.8 L450.9 514.5 L450.5 515.2 L449.2 514.9 L449.7 516.6 L449.3 517.3 L447.9 516.9 L448.3 518.6 L447.8 519.2 L446.5 518.7 L446.8 520.5 L446.3 521.0 L445.0 520.4 L445.1 522.1 L444.6 522.6 L443.3 521.9 L443.4 523.6 L442.9 524.0 L441.6 523.2 L441.5 524.9 L441.0 525.2 L439.7 524.3 L439.6 525.9 L439.0 526.2 L437.8 525.2 L437.6 526.8 L437.0 527.1 L435.8 526.0 L435.5 527.5 L434.8 527.7 L433.7 526.5 L433.3 528.0 L432.6 528.1 L431.6 526.8 L431.1 528.3 L430.4 528.3 L429.4 527.0 L428.8 528.3 L428.1 528.3 L427.2 526.9 L426.5 528.2 L425.8 528.1 L424.9 526.6 L424.2 527.8 L423.5 527.7 L422.7 526.1 L421.9 527.2 L421.2 527.0 L420.4 525.4 L419.5 526.4 L418.8 526.2 L418.1 524.6 L417.2 525.5 L416.5 525.1 L415.9 523.5 L414.9 524.3 L414.2 523.9 L413.7 522.2 L412.6 522.9 L412.0 522.5 L411.5 520.8 L410.4 521.4 L409.8 520.9 L409.4 519.2 L408.3 519.6 L407.6 519.1 L407.4 517.4 L406.2 517.7 L405.6 517.1 L405.4 515.4 L404.1 515.7 L403.6 515.0 L403.5 513.3 L402.2 513.5 L401.7 512.8 L401.7 511.1 L400.4 511.1 L399.9 510.4 L400.0 508.8 L398.7 508.6 L398.2 507.9 L398.4 506.3 L397.0 506.1 L396.6 505.3 L396.9 503.7 L395.5 503.4 L395.1 502.5 L395.5 501.1 L394.2 500.6 L393.8 499.7 L394.3 498.3 L393.0 497.7 L392.6 496.9 L393.2 495.5 L391.9 494.8 L391.6 493.9 L392.2 492.6 L390.9 491.8 L390.7 490.9 L391.4 489.7 L390.1 488.8 L389.9 487.9 L390.7 486.8 L389.5 485.8 L389.3 484.9 L390.2 483.9 L389.0 482.8 L388.9 481.9 L389.8 481.0 L388.7 479.8 L388.6 478.9 L389.6 478.1 L388.6 476.8 L388.5 475.9 L389.6 475.2 L388.6 473.8 L388.6 473.0 L389.7 472.4 L388.7 471.0 L388.8 470.1 L390.0 469.6 L389.1 468.1 L389.2 467.3 L390.4 466.9 L389.6 465.4 L389.8 464.6 L391.0 464.3 L390.2 462.7 L390.5 462.0 L391.7 461.8 L391.0 460.2 L391.3 459.5 L392.6 459.4 L392.0 457.8 L392.3 457.1 L393.6 457.2 L393.1 455.5 L393.5 454.8 L394.8 455.1 L394.3 453.4 L394.7 452.7 L396.1 453.1 L395.7 451.4 L396.2 450.8 L397.5 451.3 L397.2 449.5 L397.7 449.0 L399.0 449.6 L398.9 447.9 L399.4 447.4 L400.7 448.1 L400.6 446.4 L401.1 446.0 L402.4 446.8 L402.5 445.1 L403.0 444.8 L404.3 445.7 L404.4 444.1 L405.0 443.8 L406.2 444.8 L406.4 443.2 L407.0 442.9 L408.2 444.0 L408.5 442.5 L409.2 442.3 L410.3 443.5 L410.7 442.0 L411.4 441.9 L412.4 443.2 L412.9 441.7 L413.6 441.7 L414.6 443.0 L415.2 441.7 L415.9 441.7 L416.8 443.1 L417.5 441.8 L418.2 441.9 L419.1 443.4 L419.8 442.2 L420.5 442.3 L421.3 443.9 L422.1 442.8 L422.8 443.0 L423.6 444.6 L424.5 443.6 L425.2 443.8 L425.9 445.4 L426.8 444.5 L427.5 444.9 L428.1 446.5 L429.1 445.7 L429.8 446.1 L430.3 447.8 L431.4 447.1 L432.0 447.5 L432.5 449.2 L433.6 448.6 L434.2 449.1 L434.6 450.8 L435.7 450.4 L436.4 450.9 L436.6 452.6 L437.8 452.3 L438.4 452.9 L438.6 454.6 L439.9 454.3 L440.4 455.0 L440.5 456.7 L441.8 456.5 L442.3 457.2 L442.3 458.9 L443.6 458.9 L444.1 459.6 L444.0 461.2 L445.3 461.4 L445.8 462.1 L445.6 463.7 L447.0 463.9 L447.4 464.7 L447.1 466.3 L448.5 466.6 L448.9 467.5 L448.5 468.9 L449.8 469.4 L450.2 470.3 L449.7 471.7 L451.0 472.3 L451.4 473.1 L450.8 474.5 Z" stroke-width="0.35"/><g clip-path="url(#c4)"><path d="M451.9 509.4 L467.9 503.4 M451.2 511.1 L467.2 505.1 M450.4 512.8 L466.4 506.8 M449.6 514.3 L465.6 508.3 M448.7 515.8 L464.7 509.8 M447.7 517.3 L463.7 511.3 M446.6 518.6 L462.6 512.6 M445.5 519.8 L461.5 513.8 M444.4 521.0 L460.4 515.0 M443.1 522.1 L459.1 516.1 M441.8 523.0 L457.8 517.0 M440.5 523.9 L456.5 517.9 M439.1 524.6 L455.1 518.6 M437.7 525.3 L453.7 519.3 M436.2 525.8 L452.2 519.8 M434.7 526.3 L450.7 520.3 M433.1 526.6 L449.1 520.6 M431.6 526.8 L447.6 520.8 M430.0 527.0 L446.0 521.0 M428.3 527.0 L444.3 521.0 M426.7 526.9 L442.7 520.9 M425.0 526.6 L441.0 520.6 M423.4 526.3 L439.4 520.3 M421.7 525.9 L437.7 519.9 M420.1 525.3 L436.1 519.3 M418.4 524.7 L434.4 518.7 M416.8 523.9 L432.8 517.9 M415.1 523.1 L431.1 517.1 M413.5 522.1 L429.5 516.1 M411.9 521.0 L427.9 515.0 M410.3 519.9 L426.3 513.9 M408.8 518.7 L424.8 512.7 M407.3 517.3 L423.3 511.3 M405.8 515.9 L421.8 509.9 M404.4 514.4 L420.4 508.4 M403.0 512.8 L419.0 506.8 M401.7 511.2 L417.7 505.2 M400.5 509.5 L416.5 503.5 M399.2 507.7 L415.2 501.7 M398.1 505.8 L414.1 499.8 M397.0 503.9 L413.0 497.9 M396.0 502.0 L412.0 496.0 M395.0 500.0 L411.0 494.0 M394.1 498.0 L410.1 492.0 M393.3 495.9 L409.3 489.9 M392.6 493.8 L408.6 487.8 M391.9 491.7 L407.9 485.7 M391.3 489.6 L407.3 483.6 M390.8 487.4 L406.8 481.4 M390.4 485.3 L406.4 479.3 M390.1 483.1 L406.1 477.1 M389.8 481.0 L405.8 475.0 M389.7 478.8 L405.7 472.8 M389.6 476.7 L405.6 470.7 M389.6 474.6 L405.6 468.6 M389.7 472.5 L405.7 466.5 M389.9 470.5 L405.9 464.5 M390.1 468.5 L406.1 462.5 M390.5 466.5 L406.5 460.5 M390.9 464.6 L406.9 458.6 M391.4 462.8 L407.4 456.8 M392.0 461.0 L408.0 455.0 M392.7 459.2 L408.7 453.2 M393.4 457.6 L409.4 451.6 M394.2 456.0 L410.2 450.0 M395.1 454.5 L411.1 448.5 M396.1 453.0 L412.1 447.0 M397.1 451.7 L413.1 445.7 M398.2 450.4 L414.2 444.4 M399.4 449.2 L415.4 443.2 M400.6 448.2 L416.6 442.2 M401.9 447.2 L417.9 441.2 M403.2 446.3 L419.2 440.3 M404.6 445.5 L420.6 439.5 M406.0 444.8 L422.0 438.8 M407.5 444.3 L423.5 438.3 M409.0 443.8 L425.0 437.8 M410.6 443.4 L426.6 437.4 M412.1 443.2 L428.1 437.2 M413.7 443.1 L429.7 437.1 M415.3 443.0 L431.3 437.0 M417.0 443.1 L433.0 437.1 M418.6 443.3 L434.6 437.3 M420.3 443.6 L436.3 437.6 M421.9 444.0 L437.9 438.0 M423.6 444.6 L439.6 438.6" stroke-width="0.6"/><path d="M421.3 440.6 L421.6 439.0 L422.4 438.7 L423.7 439.6 L424.2 438.0 L425.0 437.8 L426.3 438.8 L426.9 437.4 L427.7 437.2 L429.0 438.4 L429.7 437.1 L430.5 437.0 L431.7 438.3 L432.5 437.1 L433.4 437.2 L434.5 438.5 L435.4 437.4 L436.3 437.6 L437.3 439.1 L438.3 438.1 L439.2 438.4 L440.1 440.0 L441.2 439.2 L442.1 439.5 L442.9 441.2 L444.1 440.5 L444.9 441.0 L445.7 442.7 L446.9 442.2 L447.7 442.7 L448.4 444.5 L449.7 444.1 L450.5 444.7 L451.0 446.5 L452.3 446.3 L453.1 447.1 L453.5 448.9 L454.9 448.8 L455.6 449.6 L455.9 451.4 L457.3 451.6 L458.0 452.4 L458.1 454.2 L459.5 454.5 L460.2 455.4 L460.2 457.2 L461.6 457.7 L462.2 458.7 L462.1 460.4 L463.5 461.0 L464.0 462.0 L463.8 463.7 L465.2 464.5 L465.7 465.5 L465.3 467.2 L466.7 468.1 L467.1 469.2 L466.6 470.7 L467.9 471.7 L468.2 472.9 L467.7 474.3 L468.9 475.5 L469.2 476.6 L468.5 477.9 L469.7 479.2 L469.8 480.4 L469.1 481.6 L470.2 483.0 L470.3 484.1 L469.4 485.2 L470.4 486.7 L470.4 487.8 L469.4 488.8 L470.4 490.4 L470.3 491.5 L469.2 492.3 L470.1 494.0 L469.9 495.0 L468.8 495.7 L469.5 497.4 L469.3 498.4 L468.1 499.0 L468.7 500.7 L468.4 501.7 L467.2 502.1 L467.7 503.9 L467.3 504.8 L466.0 505.0 L466.4 506.8 L466.0 507.6 L464.6 507.7 L464.9 509.5 L464.4 510.3 L463.0 510.2 L463.2 512.0 L462.6 512.6 L461.2 512.4 L461.2 514.2 L460.6 514.8 L459.2 514.3 L459.1 516.1 L458.4 516.6 L457.0 516.0 L456.8 517.7 L456.1 518.1 L454.7 517.4 L454.4 519.0 L453.6 519.3 L452.3 518.4 L451.8 520.0 L451.0 520.2 L449.7 519.2 L449.1 520.6 L448.3 520.8 L447.0 519.6 L446.3 520.9 L445.5 521.0 L444.3 519.7 L443.5 520.9 L442.6 520.8 L441.5 519.5 L440.6 520.6 L439.7 520.4 L438.7 518.9 L437.7 519.9 L436.8 519.6 L435.9 518.0 L434.8 518.8 L433.9 518.5 L433.1 516.8 L431.9 517.5 L431.1 517.0 L430.3 515.3 L429.1 515.8 L428.3 515.3 L427.6 513.5 L426.3 513.9 L425.5 513.3 L425.0 511.5 L423.7 511.7 L422.9 510.9 L422.5 509.1 L421.1 509.2 L420.4 508.4 L420.1 506.6 L418.7 506.4 L418.0 505.6 L417.9 503.8 L416.5 503.5 L415.8 502.6 L415.8 500.8 L414.4 500.3 L413.8 499.3 L413.9 497.6 L412.5 497.0 L412.0 496.0 L412.2 494.3 L410.8 493.5 L410.3 492.5 L410.7 490.8 L409.3 489.9 L408.9 488.8 L409.4 487.3 L408.1 486.3 L407.8 485.1 L408.3 483.7 L407.1 482.5 L406.8 481.4 L407.5 480.1 L406.3 478.8 L406.2 477.6 L406.9 476.4 L405.8 475.0 L405.7 473.9 L406.6 472.8 L405.6 471.3 L405.6 470.2 L406.6 469.2 L405.6 467.6 L405.7 466.5 L406.8 465.7 L405.9 464.0 L406.1 463.0 L407.2 462.3 L406.5 460.6 L406.7 459.6 L407.9 459.0 L407.3 457.3 L407.6 456.3 L408.8 455.9 L408.3 454.1 L408.7 453.2 L410.0 453.0 L409.6 451.2 L410.0 450.4 L411.4 450.3 L411.1 448.5 L411.6 447.7 L413.0 447.8 L412.8 446.0 L413.4 445.4 L414.8 445.6 L414.8 443.8 L415.4 443.2 L416.8 443.7 L416.9 441.9 L417.6 441.4 L419.0 442.0 L419.2 440.3 L419.9 439.9 L421.3 440.6 Z" stroke-width="0.4" fill="#fff"/></g><path d="M454.2 508.0 L453.5 509.3 L452.7 510.4 L451.9 511.5 L451.0 512.5 L450.1 513.5 L449.1 514.3 L448.0 515.1 L446.9 515.7 L445.8 516.3 L444.7 516.8 L443.5 517.2 L442.2 517.4 L441.0 517.6 L439.7 517.7 L438.4 517.7 L437.1 517.6 L435.7 517.4 L434.4 517.1 L433.0 516.7 L431.7 516.2 L430.3 515.6 L429.0 515.0 L427.6 514.2 L426.3 513.3 L425.0 512.4 L423.7 511.4 L422.4 510.3 L421.2 509.1 L420.0 507.8 L418.8 506.5 L417.7 505.1 L416.5 503.6 L415.5 502.1 L414.5 500.6 L413.5 498.9 L412.6 497.3 L411.7 495.5 L410.9 493.8 L410.1 492.0 L409.4 490.2 L408.8 488.4 L408.2 486.5 L407.7 484.7 L407.3 482.8 L406.9 480.9 L406.6 479.1 L406.4 477.2 L406.3 475.4 L406.2 473.5 L406.1 471.7 L406.2 469.9 L406.3 468.2 L406.5 466.5 L406.8 464.8 L407.1 463.2 L407.5 461.7 L408.0 460.1 L408.5 458.7 L409.1 457.3 L409.8 456.0 L410.5 454.7 L411.3 453.6 L412.1 452.5 L413.0 451.5 L413.9 450.5 L414.9 449.7 L416.0 448.9 L417.1 448.3 L418.2 447.7 L419.3 447.2 L420.5 446.8 L421.8 446.6 L423.0 446.4 L424.3 446.3 L425.6 446.3 L426.9 446.4 L428.3 446.6 L429.6 446.9 L431.0 447.3 L432.3 447.8" stroke-width="0.45"/><g stroke="#231f20" fill="none" stroke-width="0.45" stroke-linejoin="round" stroke-linecap="round"><circle cx="441.3" cy="517.9" r="1.4"/><circle cx="434.4" cy="517.6" r="1.4"/><circle cx="427.1" cy="514.2" r="1.4"/><circle cx="420.2" cy="507.8" r="1.4"/><circle cx="414.4" cy="499.3" r="1.4"/><circle cx="410.1" cy="489.2" r="1.4"/><circle cx="407.8" cy="478.7" r="1.4"/><circle cx="407.7" cy="468.7" r="1.4"/><circle cx="409.8" cy="460.1" r="1.4"/><circle cx="413.9" cy="453.8" r="1.4"/><circle cx="419.7" cy="450.4" r="1.4"/></g><path d="M424 468 Q418 458 419 447 M433 466 Q440 458 446 452 M437 496 Q446 503 452 503 M430 499 Q434 510 444 516" stroke-width="0.5"/><path d="M416.5 479.0 L416.5 478.3 L416.5 477.6 L416.6 476.9 L416.7 476.2 L416.9 475.6 L417.0 474.9 L417.2 474.3 L417.4 473.7 L417.7 473.1 L418.0 472.5 L418.3 472.0 L418.6 471.5 L419.0 471.0 L419.3 470.6 L419.7 470.1 L420.2 469.8 L420.6 469.4 L421.1 469.1 L421.5 468.8 L422.0 468.6 L429.0 465.6 L429.5 465.4 L430.1 465.2 L430.6 465.1 L431.1 465.0 L431.7 464.9 L432.3 464.9 L432.8 464.9 L433.4 465.0 L434.0 465.1 L434.6 465.2 L435.1 465.4 L435.7 465.6 L436.3 465.9 L436.9 466.1 L437.4 466.5 L438.0 466.8 L438.5 467.2 L439.1 467.6 L439.6 468.1 L440.1 468.6 L440.6 469.1 L441.0 469.6 L441.5 470.2 L441.9 470.8 L442.4 471.4 L442.8 472.0 L443.1 472.6 L443.5 473.3 L443.8 474.0 L444.1 474.7 L444.4 475.4 L444.6 476.1 L444.8 476.9 L445.0 477.6 L445.2 478.3 L445.3 479.1 L445.4 479.8 L445.5 480.5 L445.5 481.3 L445.5 482.0 L445.5 482.7 L445.5 483.4 L445.4 484.1 L445.3 484.8 L445.1 485.4 L445.0 486.1 L444.8 486.7 L444.6 487.3 L444.3 487.9 L444.0 488.5 L443.7 489.0 L443.4 489.5 L443.0 490.0 L442.7 490.4 L442.3 490.9 L441.8 491.2 L441.4 491.6 L440.9 491.9 L440.5 492.2 L440.0 492.4 L433.0 495.4 L432.5 495.6 L431.9 495.8 L431.4 495.9 L430.9 496.0 L430.3 496.1 L429.7 496.1 L429.2 496.1 L428.6 496.0 L428.0 495.9 L427.4 495.8 L426.9 495.6 L426.3 495.4 L425.7 495.1 L425.1 494.9 L424.6 494.5 L424.0 494.2 L423.5 493.8 L422.9 493.4 L422.4 492.9 L421.9 492.4 L421.4 491.9 L421.0 491.4 L420.5 490.8 L420.1 490.2 L419.6 489.6 L419.2 489.0 L418.9 488.4 L418.5 487.7 L418.2 487.0 L417.9 486.3 L417.6 485.6 L417.4 484.9 L417.2 484.1 L417.0 483.4 L416.8 482.7 L416.7 481.9 L416.6 481.2 L416.5 480.5 L416.5 479.7 Z" fill="#fff"/><ellipse cx="427.5" cy="482.0" rx="10.5" ry="14.5" transform="rotate(-20 427.5 482.0)" fill="#fff" stroke-width="0.8"/><ellipse cx="427.5" cy="482.0" rx="8.6" ry="11.9" transform="rotate(-20 427.5 482.0)" stroke-width="0.6"/></g><path d="M395.7 410.6 L402.0 431.7" stroke="#231f20" stroke-width="1.3" fill="none"/><path d="M403.9 437.9 L398.8 431.6 L404.7 429.8 Z" fill="#231f20"/><path d="M456.0 419.4 L462.4 439.9" stroke="#231f20" stroke-width="1.3" fill="none"/><path d="M464.3 446.1 L459.1 439.9 L465.0 438.0 Z" fill="#231f20"/><path d="M565.2 390.4 L542.6 382.0" stroke="#231f20" stroke-width="1.3" fill="none"/><path d="M536.5 379.7 L544.6 379.4 L542.4 385.2 Z" fill="#231f20"/><path d="M555.0 498.9 L548.1 476.8" stroke="#231f20" stroke-width="1.3" fill="none"/><path d="M546.2 470.6 L551.4 476.8 L545.5 478.7 Z" fill="#231f20"/><g stroke="#333" fill="none" stroke-width="0.6" stroke-linejoin="round" stroke-linecap="round"><path d="M571.6 629.9 L573.1 631.6 L574.6 633.3 L576.0 635.1 L577.3 637.0 L578.6 638.9 L579.8 640.9 L581.0 642.9 L582.1 644.9 L583.1 647.0 L584.1 649.0 L584.9 651.1 L585.8 653.3 L586.5 655.4 L587.1 657.5 L587.7 659.6 L588.1 661.8 L588.5 663.8 L588.8 665.9 L589.0 668.0 L589.2 670.0 L589.2 671.9 L589.1 673.9 L589.0 675.7 L588.8 677.6 L588.4 679.3 L588.0 681.0 L587.5 682.6 L586.9 684.2 L586.3 685.6 L585.5 687.0 L584.7 688.3 L583.8 689.5 L582.8 690.6 L581.8 691.7 L580.7 692.6 L579.5 693.4 L578.2 694.1 L576.9 694.7 L575.6 695.2 L574.2 695.6 L572.7 695.9 L571.2 696.0 L569.7 696.1 L568.1 696.0 L566.5 695.8 L564.8 695.6 L563.2 695.2 L561.5 694.7 L559.8 694.0 L558.1 693.3 L556.4 692.5 L554.8 691.6 L553.1 690.6 L551.4 689.4 L549.7 688.2 L548.1 686.9 L546.5 685.5 L544.9 684.0 L543.3 682.5 L541.8 680.9 L540.3 679.2 L538.9 677.4 L537.5 675.6 L536.2 673.7 L534.9 671.8 L533.7 669.8 L532.6 667.8 L531.5 665.7 L530.5 663.7 L529.6 661.6 L528.7 659.5 L528.0 657.3 L527.3 655.2 L526.7 653.1 L526.1 651.0 L525.7 648.9 L525.3 646.8 L525.1 644.7 L524.9 642.7 L524.8 640.7 L524.8 638.7 L524.9 636.8 L525.1 635.0 L525.4 633.2 L525.7 631.4 L526.2 629.8 L526.7 628.2 L527.3 626.7 L528.0 625.2 L528.8 623.9 L529.6 622.6 L530.5 621.4 L531.6 620.4 L532.6 619.4 L533.8 618.5 L535.0 617.7 L536.2 617.1 L537.6 616.5 L538.9 616.0 L540.4 615.7 L541.8 615.5 L543.4 615.3 L544.9 615.3 L546.5 615.4 L548.1 615.6 L549.8 616.0" stroke-width="0.7"/><path d="M571.1 630.8 L572.6 632.4 L573.9 634.1 L575.3 635.8 L576.6 637.6 L577.8 639.5 L579.0 641.4 L580.1 643.3 L581.2 645.3 L582.2 647.3 L583.1 649.3 L584.0 651.3 L584.7 653.4 L585.4 655.4 L586.1 657.5 L586.6 659.5 L587.1 661.5 L587.4 663.6 L587.7 665.6 L587.9 667.5 L588.0 669.5 L588.1 671.4 L588.0 673.2 L587.9 675.0 L587.6 676.8 L587.3 678.5 L586.9 680.1 L586.5 681.7 L585.9 683.2 L585.3 684.6 L584.5 685.9 L583.7 687.2 L582.9 688.3 L581.9 689.4 L580.9 690.4 L579.8 691.3 L578.7 692.1 L577.5 692.8 L576.2 693.3 L574.9 693.8 L573.6 694.2 L572.2 694.5 L570.7 694.6 L569.2 694.7 L567.7 694.6 L566.2 694.4 L564.6 694.2 L563.0 693.8 L561.4 693.3 L559.7 692.7 L558.1 692.0 L556.5 691.2 L554.8 690.3 L553.2 689.3 L551.6 688.3 L550.0 687.1 L548.4 685.8 L546.8 684.5 L545.3 683.1 L543.8 681.6 L542.3 680.0 L540.9 678.3 L539.5 676.6 L538.2 674.9 L536.9 673.1 L535.7 671.2 L534.5 669.3 L533.4 667.4 L532.4 665.4 L531.4 663.4 L530.6 661.4 L529.7 659.3 L529.0 657.3 L528.3 655.2 L527.7 653.2 L527.2 651.1 L526.8 649.1 L526.5 647.1 L526.2 645.1 L526.0 643.1 L525.9 641.2 L525.9 639.3 L526.0 637.5 L526.2 635.7 L526.5 634.0 L526.8 632.3 L527.2 630.7 L527.7 629.1 L528.3 627.7 L529.0 626.3 L529.8 625.0 L530.6 623.8 L531.5 622.6 L532.4 621.6 L533.5 620.7 L534.6 619.8 L535.7 619.1 L537.0 618.4 L538.2 617.9 L539.6 617.4 L541.0 617.1 L542.4 616.9 L543.8 616.8 L545.3 616.7 L546.9 616.8 L548.4 617.1 L550.0 617.4" stroke-width="0.6"/><path d="M508.4 675.6 L508.5 674.9 L508.5 674.3 L508.6 673.7 L508.7 673.1 L508.9 672.5 L509.0 672.0 L509.2 671.4 L509.4 670.9 L509.7 670.4 L509.9 670.0 L510.2 669.5 L510.5 669.1 L510.8 668.7 L511.2 668.3 L511.5 668.0 L511.9 667.7 L512.3 667.4 L512.7 667.2 L516.7 665.2 L517.1 665.0 L517.5 664.8 L518.0 664.6 L518.5 664.5 L518.9 664.5 L519.4 664.4 L519.9 664.4 L520.4 664.4 L520.9 664.5 L521.4 664.6 L521.9 664.7 L522.4 664.9 L522.9 665.1 L523.4 665.3 L523.9 665.6 L524.4 665.9 L524.8 666.2 L525.3 666.5 L525.8 666.9 L526.2 667.3 L526.7 667.8 L527.1 668.2 L527.5 668.7 L527.9 669.2 L528.3 669.8 L528.7 670.3 L529.0 670.9 L529.4 671.5 L529.7 672.0 L530.0 672.7 L530.2 673.3 L530.5 673.9 L530.7 674.6 L530.9 675.2 L531.0 675.9 L531.2 676.5 L531.3 677.2 L531.4 677.9 L531.5 678.5 L531.5 679.2 L531.5 679.8 L531.5 680.4 L531.5 681.1 L531.5 681.7 L531.4 682.3 L531.3 682.9 L531.1 683.5 L531.0 684.0 L530.8 684.6 L530.6 685.1 L530.3 685.6 L530.1 686.0 L529.8 686.5 L529.5 686.9 L529.2 687.3 L528.8 687.7 L528.5 688.0 L528.1 688.3 L527.7 688.6 L527.3 688.8 L523.3 690.8 L522.9 691.0 L522.5 691.2 L522.0 691.4 L521.5 691.5 L521.1 691.5 L520.6 691.6 L520.1 691.6 L519.6 691.6 L519.1 691.5 L518.6 691.4 L518.1 691.3 L517.6 691.1 L517.1 690.9 L516.6 690.7 L516.1 690.4 L515.6 690.1 L515.2 689.8 L514.7 689.5 L514.2 689.1 L513.8 688.7 L513.3 688.2 L512.9 687.8 L512.5 687.3 L512.1 686.8 L511.7 686.2 L511.3 685.7 L511.0 685.1 L510.6 684.5 L510.3 684.0 L510.1 683.3 L509.8 682.7 L509.5 682.1 L509.3 681.4 L509.1 680.8 L508.9 680.1 L508.8 679.5 L508.7 678.8 L508.6 678.1 L508.5 677.5 L508.5 676.8 L508.4 676.2 Z" fill="#fff"/><path d="M462.5 680.8 L462.6 678.8 L462.8 676.8 L463.0 674.8 L463.3 672.9 L463.7 671.1 L464.2 669.3 L464.7 667.5 L465.4 665.9 L466.1 664.3 L466.8 662.8 L467.7 661.3 L468.6 660.0 L469.6 658.7 L470.6 657.6 L471.7 656.5 L472.9 655.5 L474.1 654.6 L475.3 653.9 L476.6 653.2 L478.0 652.7 L479.4 652.2 L486.9 650.2 L488.3 649.9 L489.8 649.6 L491.3 649.5 L492.8 649.5 L494.3 649.7 L495.9 649.9 L497.4 650.2 L499.0 650.7 L500.6 651.2 L502.1 651.9 L503.7 652.7 L505.2 653.5 L506.8 654.5 L508.3 655.6 L509.8 656.8 L511.2 658.0 L512.7 659.4 L514.1 660.8 L515.5 662.3 L516.8 663.9 L518.0 665.6 L519.3 667.3 L520.5 669.1 L521.6 671.0 L522.6 672.9 L523.6 674.8 L524.6 676.9 L525.4 678.9 L526.2 681.0 L526.9 683.1 L527.6 685.2 L528.2 687.3 L528.7 689.5 L529.1 691.6 L529.4 693.7 L529.7 695.9 L529.9 698.0 L529.9 700.1 L530.0 702.2 L529.9 704.2 L529.7 706.2 L529.5 708.2 L529.2 710.1 L528.8 711.9 L528.3 713.7 L527.8 715.5 L527.1 717.1 L526.4 718.7 L525.7 720.2 L524.8 721.7 L523.9 723.0 L522.9 724.3 L521.9 725.4 L520.8 726.5 L519.6 727.5 L518.4 728.4 L517.2 729.1 L515.9 729.8 L514.5 730.3 L513.1 730.8 L505.6 732.8 L504.2 733.1 L502.7 733.4 L501.2 733.5 L499.7 733.5 L498.2 733.3 L496.6 733.1 L495.1 732.8 L493.5 732.3 L491.9 731.8 L490.4 731.1 L488.8 730.3 L487.3 729.5 L485.7 728.5 L484.2 727.4 L482.7 726.2 L481.2 725.0 L479.8 723.6 L478.4 722.2 L477.1 720.7 L475.7 719.1 L474.4 717.4 L473.2 715.7 L472.1 713.9 L470.9 712.0 L469.9 710.1 L468.9 708.2 L467.9 706.1 L467.1 704.1 L466.3 702.0 L465.6 699.9 L464.9 697.8 L464.3 695.7 L463.8 693.5 L463.4 691.4 L463.1 689.3 L462.8 687.1 L462.6 685.0 L462.6 682.9 Z" fill="#fff" stroke="none"/><path d="M478.5 658.0 L478.0 655.6 L478.6 655.1 L480.3 656.2 L479.9 653.8 L480.5 653.4 L482.2 654.7 L482.0 652.4 L482.7 652.0 L484.3 653.5 L484.2 651.2 L484.9 650.9 L486.4 652.6 L486.6 650.3 L487.3 650.1 L488.7 651.9 L489.0 649.8 L489.8 649.7 L491.1 651.6 L491.5 649.5 L492.3 649.5 L493.6 651.6 L494.2 649.6 L494.9 649.7 L496.1 651.9 L496.8 650.1 L497.6 650.3 L498.6 652.5 L499.5 650.8 L500.3 651.1 L501.2 653.4 L502.2 651.9 L503.0 652.3 L503.7 654.7 L504.8 653.3 L505.6 653.8 L506.2 656.2 L507.4 655.0 L508.2 655.5 L508.7 657.9 L510.0 656.9 L510.8 657.6 L511.1 660.0 L512.5 659.2 L513.2 659.9 L513.4 662.2 L514.9 661.7 L515.6 662.4 L515.5 664.8 L517.1 664.4 L517.8 665.2 L517.6 667.5 L519.3 667.3 L519.9 668.2 L519.5 670.4 L521.2 670.4 L521.8 671.4 L521.3 673.4 L523.0 673.7 L523.6 674.7 L522.9 676.6 L524.7 677.1 L525.1 678.1 L524.3 679.9 L526.1 680.6 L526.5 681.7 L525.6 683.3 L527.3 684.2 L527.6 685.3 L526.6 686.8 L528.3 687.8 L528.5 688.9 L527.4 690.2 L529.1 691.5 L529.2 692.6 L528.0 693.7 L529.6 695.2 L529.7 696.3 L528.3 697.2 L529.9 698.8 L529.9 699.9 L528.5 700.6 L530.0 702.3 L529.9 703.4 L528.4 703.9 L529.8 705.8 L529.7 706.8 L528.1 707.1 L529.4 709.1 L529.2 710.1 L527.5 710.2 L528.7 712.3 L528.5 713.2 L526.7 713.1 L527.8 715.3 L527.5 716.2 L525.8 715.8 L526.7 718.1 L526.3 718.9 L524.6 718.4 L525.4 720.7 L525.0 721.5 L523.2 720.7 L523.9 723.1 L523.4 723.7 L521.6 722.8 L522.1 725.2 L521.6 725.7 L519.9 724.6 L520.3 727.0 L519.7 727.5 L518.0 726.1 L518.2 728.5 L517.6 728.9 L515.9 727.4 L516.0 729.7 L515.3 730.0 L513.8 728.4" stroke-width="0.45"/><path d="M471.5 656.6 L479.0 654.6 M473.6 655.0 L481.1 653.0 M475.7 653.7 L483.2 651.7 M478.0 652.7 L485.5 650.7 M480.4 652.0 L487.9 650.0 M482.9 651.6 L490.4 649.6 M485.5 651.6 L493.0 649.6 M488.1 651.8 L495.6 649.8 M490.8 652.5 L498.3 650.5 M493.5 653.4 L501.0 651.4 M496.2 654.7 L503.7 652.7 M498.8 656.2 L506.3 654.2 M501.4 658.1 L508.9 656.1 M504.0 660.2 L511.5 658.2 M506.4 662.6 L513.9 660.6 M508.7 665.2 L516.2 663.2 M510.9 668.1 L518.4 666.1 M513.0 671.1 L520.5 669.1 M514.8 674.3 L522.3 672.3 M516.5 677.7 L524.0 675.7 M518.0 681.2 L525.5 679.2 M519.3 684.8 L526.8 682.8 M520.4 688.4 L527.9 686.4 M521.3 692.1 L528.8 690.1 M521.9 695.7 L529.4 693.7 M522.3 699.4 L529.8 697.4 M522.5 703.0 L530.0 701.0 M522.4 706.5 L529.9 704.5 M522.0 709.9 L529.5 707.9 M521.5 713.1 L529.0 711.1 M520.7 716.2 L528.2 714.2 M519.6 719.1 L527.1 717.1 M518.4 721.8 L525.9 719.8 M516.9 724.3 L524.4 722.3 M515.3 726.4 L522.8 724.4 M513.5 728.4 L521.0 726.4 M511.4 730.0 L518.9 728.0 M509.3 731.3 L516.8 729.3 M507.0 732.3 L514.5 730.3" stroke-width="0.45"/><path d="M517.4 683.4 L519.2 684.2 L519.5 685.3 L518.5 686.9 L520.3 687.8 L520.6 688.9 L519.5 690.3 L521.2 691.5 L521.4 692.6 L520.2 693.8 L521.8 695.2 L522.0 696.3 L520.7 697.3 L522.3 698.8 L522.3 699.9 L520.9 700.8 L522.5 702.4 L522.5 703.5 L520.9 704.1 L522.4 706.0 L522.3 707.0 L520.7 707.4 L522.1 709.4 L522.0 710.4 L520.3 710.6 L521.6 712.7 L521.4 713.6 L519.7 713.6 L520.8 715.8 L520.5 716.7 L518.8 716.4 L519.8 718.7 L519.5 719.5 L517.7 719.1 L518.6 721.4 L518.2 722.2 L516.4 721.5 L517.2 723.9 L516.7 724.6 L515.0 723.7 L515.5 726.1 L515.0 726.8 L513.3 725.7 L513.7 728.1 L513.2 728.6 L511.5 727.4 L511.8 729.8 L511.1 730.2 L509.5 728.8 L509.6 731.1 L509.0 731.5 L507.4 729.9 L507.4 732.2 L506.6 732.5 L505.1 730.7 L505.0 733.0 L504.2 733.1 L502.8 731.2 L502.5 733.4 L501.7 733.4 L500.4 731.4 L499.9 733.5 L499.1 733.4 L497.9 731.3 L497.3 733.2 L496.5 733.1 L495.4 730.9 L494.6 732.7 L493.8 732.4 L492.8 730.1 L491.9 731.8 L491.1 731.4 L490.3 729.1 L489.2 730.6 L488.4 730.1 L487.7 727.7 L486.6 729.0 L485.8 728.5 L485.2 726.1 L484.0 727.2 L483.2 726.6 L482.8 724.2 L481.4 725.1 L480.7 724.5 L480.4 722.1 L479.0 722.8 L478.3 722.0 L478.2 719.7 L476.6 720.2 L475.9 719.4 L476.0 717.1 L474.4 717.4 L473.8 716.5 L474.0 714.3 L472.3 714.4 L471.8 713.4 L472.2 711.3 L470.4 711.2 L469.9 710.2 L470.5 708.2 L468.7 707.8 L468.2 706.8 L468.9 704.9 L467.2 704.3 L466.8 703.3 L467.6 701.6 L465.8 700.8 L465.5 699.7 L466.5 698.1 L464.7 697.2 L464.4 696.1 L465.5 694.7 L463.8 693.5 L463.6 692.4 L464.8 691.2 L463.2 689.8 L463.0 688.7 L464.3 687.7 L462.7 686.2 L462.7 685.1 L464.1 684.2 L462.5 682.6 L462.5 681.5 L464.1 680.9 L462.6 679.0 L462.7 678.0 L464.3 677.6 L462.9 675.6 L463.0 674.6 L464.7 674.4 L463.4 672.3 L463.6 671.4 L465.3 671.4 L464.2 669.2 L464.5 668.3 L466.2 668.6 L465.2 666.3 L465.5 665.5 L467.3 665.9 L466.4 663.6 L466.8 662.8 L468.6 663.5 L467.8 661.1 L468.3 660.4 L470.0 661.3 L469.5 658.9 L470.0 658.2 L471.7 659.3 L471.3 656.9 L471.8 656.4 L473.5 657.6 L473.2 655.2 L473.9 654.8 L475.5 656.2 L475.4 653.9 L476.0 653.5 L477.6 655.1 L477.6 652.8 L478.4 652.5 L479.9 654.3 L480.0 652.0 L480.8 651.9 L482.2 653.8 L482.5 651.6 L483.3 651.6 L484.6 653.6 L485.1 651.5 L485.9 651.6 L487.1 653.7 L487.7 651.8 L488.5 651.9 L489.6 654.1 L490.4 652.3 L491.2 652.6 L492.2 654.9 L493.1 653.2 L493.9 653.6 L494.7 655.9 L495.8 654.4 L496.6 654.9 L497.3 657.3 L498.4 656.0 L499.2 656.5 L499.8 658.9 L501.0 657.8 L501.8 658.4 L502.2 660.8 L503.6 659.9 L504.3 660.5 L504.6 662.9 L506.0 662.2 L506.7 663.0 L506.8 665.3 L508.4 664.8 L509.1 665.6 L509.0 667.9 L510.6 667.6 L511.2 668.5 L511.0 670.7 L512.7 670.6 L513.2 671.6 L512.8 673.7 L514.6 673.8 L515.1 674.8 L514.5 676.8 L516.3 677.2 L516.8 678.2 L516.1 680.1 L517.8 680.7 L518.2 681.7 L517.4 683.4 Z" fill="#fff" stroke-width="0.45"/><g stroke="#231f20" fill="none" stroke-width="0.5" stroke-linejoin="round" stroke-linecap="round"><circle cx="518.1" cy="690.8" r="1.9"/><circle cx="519.3" cy="699.7" r="1.9"/><circle cx="518.8" cy="708.1" r="1.9"/><circle cx="516.5" cy="715.5" r="1.9"/><circle cx="512.7" cy="721.5" r="1.9"/><circle cx="507.6" cy="725.4" r="1.9"/><circle cx="501.5" cy="727.2" r="1.9"/><circle cx="494.9" cy="726.7" r="1.9"/><circle cx="488.2" cy="723.9" r="1.9"/><circle cx="481.9" cy="719.0" r="1.9"/><circle cx="476.3" cy="712.3" r="1.9"/><circle cx="472.0" cy="704.3" r="1.9"/><circle cx="469.1" cy="695.6" r="1.9"/><circle cx="467.9" cy="686.7" r="1.9"/><circle cx="468.4" cy="678.3" r="1.9"/><circle cx="470.7" cy="670.9" r="1.9"/><circle cx="474.5" cy="664.9" r="1.9"/><circle cx="479.6" cy="661.0" r="1.9"/><circle cx="485.7" cy="659.2" r="1.9"/><circle cx="492.3" cy="659.7" r="1.9"/><circle cx="499.0" cy="662.5" r="1.9"/><circle cx="505.3" cy="667.4" r="1.9"/><circle cx="510.9" cy="674.1" r="1.9"/><circle cx="515.2" cy="682.1" r="1.9"/></g><ellipse cx="493.2" cy="693.5" rx="20.7" ry="29.9" transform="rotate(-20 493.2 693.5)" stroke-width="0.55"/><path d="M486.1 680 L488.8 675.9 L495.6 675.5 L499.7 680.6 L501.7 703.6 L495.6 707.7 L487 708" stroke-width="0.5"/><circle cx="496" cy="680" r="1" stroke-width="0.4"/><path d="M472.6 696.3 L472.6 695.6 L472.6 695.0 L472.7 694.3 L472.8 693.7 L472.9 693.1 L473.0 692.5 L473.2 691.9 L473.4 691.3 L473.6 690.8 L473.9 690.3 L474.2 689.8 L474.5 689.3 L474.8 688.9 L475.1 688.5 L475.5 688.1 L475.9 687.7 L476.3 687.4 L476.7 687.1 L484.7 682.1 L485.1 681.8 L485.6 681.6 L486.1 681.4 L486.5 681.3 L487.0 681.1 L487.5 681.1 L488.0 681.0 L488.5 681.0 L489.1 681.0 L489.6 681.1 L490.1 681.2 L490.6 681.3 L491.2 681.5 L491.7 681.7 L492.2 681.9 L492.8 682.2 L493.3 682.5 L493.8 682.8 L494.3 683.2 L494.8 683.6 L495.3 684.0 L495.7 684.5 L496.2 685.0 L496.6 685.5 L497.1 686.0 L497.4 686.5 L497.8 687.1 L498.2 687.7 L498.6 688.3 L498.9 689.0 L499.2 689.6 L499.5 690.2 L499.7 690.9 L499.9 691.6 L500.2 692.3 L500.3 693.0 L500.5 693.6 L500.6 694.3 L500.7 695.0 L500.8 695.7 L500.8 696.4 L500.9 697.1 L500.8 697.8 L500.8 698.4 L500.7 699.1 L500.6 699.7 L500.5 700.3 L500.4 700.9 L500.2 701.5 L500.0 702.1 L499.8 702.6 L499.5 703.1 L499.2 703.6 L498.9 704.1 L498.6 704.5 L498.3 705.0 L497.9 705.3 L497.5 705.7 L497.1 706.0 L496.7 706.3 L488.7 711.3 L488.3 711.6 L487.8 711.8 L487.4 712.0 L486.9 712.1 L486.4 712.2 L485.9 712.3 L485.4 712.4 L484.9 712.4 L484.3 712.4 L483.8 712.3 L483.3 712.2 L482.8 712.1 L482.2 711.9 L481.7 711.7 L481.2 711.5 L480.6 711.2 L480.1 710.9 L479.6 710.6 L479.1 710.2 L478.6 709.8 L478.1 709.4 L477.7 708.9 L477.2 708.4 L476.8 707.9 L476.4 707.4 L475.9 706.9 L475.6 706.3 L475.2 705.7 L474.8 705.1 L474.5 704.4 L474.2 703.8 L473.9 703.1 L473.7 702.5 L473.4 701.8 L473.2 701.1 L473.1 700.4 L472.9 699.8 L472.8 699.1 L472.7 698.4 L472.6 697.7 L472.6 697.0 Z" fill="#fff"/><ellipse cx="482.7" cy="699.2" rx="9.6" ry="13.6" transform="rotate(-20 482.7 699.2)" fill="#fff" stroke-width="0.9"/><ellipse cx="482.7" cy="699.2" rx="8.1" ry="11.4" transform="rotate(-20 482.7 699.2)" stroke-width="0.6"/><path d="M387.1 722.1 L387.2 720.0 L387.4 717.9 L387.7 715.8 L388.0 713.7 L388.5 711.8 L389.0 709.9 L389.6 708.0 L390.3 706.2 L391.1 704.5 L391.9 702.9 L392.8 701.4 L393.8 700.0 L394.9 698.6 L396.0 697.4 L397.2 696.2 L398.5 695.2 L399.8 694.2 L401.2 693.4 L422.2 681.4 L423.6 680.7 L425.0 680.1 L426.6 679.6 L428.1 679.3 L429.7 679.0 L431.3 678.9 L432.9 678.9 L434.6 679.0 L436.2 679.2 L437.9 679.5 L439.6 680.0 L441.3 680.6 L443.0 681.3 L444.7 682.1 L446.3 683.0 L448.0 684.0 L449.6 685.2 L451.2 686.4 L452.8 687.7 L454.3 689.1 L455.8 690.7 L457.3 692.3 L458.7 693.9 L460.1 695.7 L461.4 697.5 L462.6 699.4 L463.8 701.4 L465.0 703.4 L466.0 705.5 L467.0 707.6 L467.9 709.8 L468.8 712.0 L469.5 714.2 L470.2 716.4 L470.8 718.7 L471.4 721.0 L471.8 723.2 L472.1 725.5 L472.4 727.8 L472.6 730.0 L472.7 732.2 L472.7 734.5 L472.6 736.6 L472.4 738.7 L472.1 740.8 L471.8 742.9 L471.3 744.8 L470.8 746.7 L470.2 748.6 L469.5 750.4 L468.7 752.1 L467.9 753.7 L467.0 755.2 L466.0 756.6 L464.9 758.0 L463.8 759.2 L462.6 760.4 L461.3 761.4 L460.0 762.4 L458.6 763.2 L437.6 775.2 L436.2 775.9 L434.8 776.5 L433.2 777.0 L431.7 777.3 L430.1 777.6 L428.5 777.7 L426.9 777.7 L425.2 777.6 L423.6 777.4 L421.9 777.0 L420.2 776.6 L418.5 776.0 L416.8 775.3 L415.1 774.5 L413.5 773.6 L411.8 772.6 L410.2 771.4 L408.6 770.2 L407.0 768.9 L405.5 767.5 L404.0 765.9 L402.5 764.3 L401.1 762.7 L399.7 760.9 L398.4 759.1 L397.2 757.2 L396.0 755.2 L394.8 753.2 L393.8 751.1 L392.8 749.0 L391.9 746.8 L391.0 744.6 L390.3 742.4 L389.6 740.2 L389.0 737.9 L388.4 735.6 L388.0 733.4 L387.7 731.1 L387.4 728.8 L387.2 726.6 L387.1 724.4 Z" fill="#fff"/><path d="M412 690 l5 -2" stroke-width="0.55" stroke-dasharray="1.2 0.8"/><path d="M426 695 l5 -2" stroke-width="0.55" stroke-dasharray="1.2 0.8"/><path d="M439 705 l5 -2" stroke-width="0.55" stroke-dasharray="1.2 0.8"/><path d="M449 720 l5 -2" stroke-width="0.55" stroke-dasharray="1.2 0.8"/><path d="M455 737 l5 -2" stroke-width="0.55" stroke-dasharray="1.2 0.8"/><path d="M457 753 l5 -2" stroke-width="0.55" stroke-dasharray="1.2 0.8"/><path d="M455 767 l5 -2" stroke-width="0.55" stroke-dasharray="1.2 0.8"/><ellipse cx="419.4" cy="734.3" rx="30.2" ry="44.9" transform="rotate(-20 419.4 734.3)" fill="#fff"/><path d="M445.5 724.8 L446.9 725.4 L447.1 726.3 L446.4 727.5 L447.8 728.3 L448.0 729.1 L447.2 730.3 L448.5 731.1 L448.7 732.0 L447.9 733.1 L449.2 734.0 L449.3 734.9 L448.4 735.9 L449.6 736.9 L449.8 737.8 L448.8 738.6 L450.0 739.8 L450.1 740.7 L449.0 741.4 L450.2 742.7 L450.2 743.5 L449.1 744.1 L450.2 745.5 L450.2 746.3 L449.0 746.8 L450.1 748.2 L450.0 749.1 L448.8 749.4 L449.8 750.9 L449.7 751.7 L448.5 752.0 L449.4 753.5 L449.3 754.3 L448.0 754.4 L448.9 756.1 L448.7 756.8 L447.4 756.8 L448.2 758.5 L447.9 759.2 L446.6 759.0 L447.3 760.8 L447.1 761.4 L445.7 761.2 L446.4 762.9 L446.0 763.6 L444.7 763.2 L445.2 765.0 L444.9 765.5 L443.5 765.0 L444.0 766.8 L443.6 767.4 L442.3 766.7 L442.7 768.5 L442.2 769.0 L440.9 768.3 L441.2 770.1 L440.7 770.5 L439.4 769.7 L439.6 771.5 L439.1 771.8 L437.8 770.9 L438.0 772.7 L437.4 773.0 L436.2 771.9 L436.2 773.7 L435.6 773.9 L434.4 772.8 L434.3 774.5 L433.8 774.7 L432.6 773.4 L432.4 775.1 L431.8 775.3 L430.7 773.9 L430.5 775.5 L429.8 775.6 L428.8 774.2 L428.4 775.7 L427.8 775.8 L426.8 774.3 L426.3 775.8 L425.7 775.7 L424.8 774.2 L424.2 775.6 L423.6 775.5 L422.7 773.9 L422.1 775.2 L421.5 775.0 L420.7 773.4 L419.9 774.6 L419.3 774.4 L418.6 772.7 L417.8 773.8 L417.2 773.6 L416.5 771.8 L415.7 772.9 L415.0 772.5 L414.5 770.7 L413.5 771.7 L412.9 771.3 L412.4 769.5 L411.4 770.4 L410.8 769.9 L410.4 768.1 L409.4 768.8 L408.8 768.3 L408.5 766.5 L407.4 767.1 L406.8 766.6 L406.6 764.8 L405.4 765.3 L404.8 764.7 L404.7 762.9 L403.5 763.3 L403.0 762.7 L403.0 760.9 L401.7 761.2 L401.2 760.5 L401.3 758.8 L400.0 758.9 L399.5 758.2 L399.7 756.5 L398.4 756.5 L397.9 755.8 L398.2 754.1 L396.9 754.0 L396.4 753.2 L396.8 751.7 L395.5 751.4 L395.1 750.6 L395.5 749.1 L394.2 748.7 L393.8 747.9 L394.3 746.5 L393.0 746.0 L392.7 745.1 L393.3 743.8 L391.9 743.2 L391.7 742.3 L392.4 741.1 L391.0 740.3 L390.8 739.5 L391.6 738.3 L390.3 737.5 L390.1 736.6 L390.9 735.5 L389.6 734.6 L389.5 733.7 L390.4 732.7 L389.2 731.7 L389.0 730.8 L390.0 730.0 L388.8 728.8 L388.7 727.9 L389.8 727.2 L388.6 725.9 L388.6 725.1 L389.7 724.5 L388.6 723.1 L388.6 722.3 L389.8 721.8 L388.7 720.4 L388.8 719.5 L390.0 719.2 L389.0 717.7 L389.1 716.9 L390.3 716.6 L389.4 715.1 L389.5 714.3 L390.8 714.2 L389.9 712.5 L390.1 711.8 L391.4 711.8 L390.6 710.1 L390.9 709.4 L392.2 709.6 L391.5 707.8 L391.7 707.2 L393.1 707.4 L392.4 705.7 L392.8 705.0 L394.1 705.4 L393.6 703.6 L393.9 703.1 L395.3 703.6 L394.8 701.8 L395.2 701.2 L396.5 701.9 L396.1 700.1 L396.6 699.6 L397.9 700.3 L397.6 698.5 L398.1 698.1 L399.4 698.9 L399.2 697.1 L399.7 696.8 L401.0 697.7 L400.8 695.9 L401.4 695.6 L402.6 696.7 L402.6 694.9 L403.2 694.7 L404.4 695.8 L404.5 694.1 L405.0 693.9 L406.2 695.2 L406.4 693.5 L407.0 693.3 L408.1 694.7 L408.3 693.1 L409.0 693.0 L410.0 694.4 L410.4 692.9 L411.0 692.8 L412.0 694.3 L412.5 692.8 L413.1 692.9 L414.0 694.4 L414.6 693.0 L415.2 693.1 L416.1 694.7 L416.7 693.4 L417.3 693.6 L418.1 695.2 L418.9 694.0 L419.5 694.2 L420.2 695.9 L421.0 694.8 L421.6 695.0 L422.3 696.8 L423.1 695.7 L423.8 696.1 L424.3 697.9 L425.3 696.9 L425.9 697.3 L426.4 699.1 L427.4 698.2 L428.0 698.7 L428.4 700.5 L429.4 699.8 L430.0 700.3 L430.3 702.1 L431.4 701.5 L432.0 702.0 L432.2 703.8 L433.4 703.3 L434.0 703.9 L434.1 705.7 L435.3 705.3 L435.8 705.9 L435.8 707.7 L437.1 707.4 L437.6 708.1 L437.5 709.8 L438.8 709.7 L439.3 710.4 L439.1 712.1 L440.4 712.1 L440.9 712.8 L440.6 714.5 L441.9 714.6 L442.4 715.4 L442.0 716.9 L443.3 717.2 L443.7 718.0 L443.3 719.5 L444.6 719.9 L445.0 720.7 L444.5 722.1 L445.8 722.6 L446.1 723.5 L445.5 724.8 Z" stroke-width="0.35"/><g clip-path="url(#c5)"><path d="M448.5 752.0 L468.5 744.0 M448.1 754.0 L468.1 746.0 M447.6 755.9 L467.6 747.9 M447.1 757.8 L467.1 749.8 M446.4 759.6 L466.4 751.6 M445.7 761.3 L465.7 753.3 M444.8 762.9 L464.8 754.9 M443.9 764.5 L463.9 756.5 M442.9 765.9 L462.9 757.9 M441.9 767.2 L461.9 759.2 M440.7 768.5 L460.7 760.5 M439.5 769.6 L459.5 761.6 M438.3 770.6 L458.3 762.6 M436.9 771.5 L456.9 763.5 M435.5 772.3 L455.5 764.3 M434.1 772.9 L454.1 764.9 M432.6 773.4 L452.6 765.4 M431.1 773.8 L451.1 765.8 M429.5 774.1 L449.5 766.1 M427.9 774.2 L447.9 766.2 M426.3 774.3 L446.3 766.3 M424.6 774.1 L444.6 766.1 M423.0 773.9 L443.0 765.9 M421.3 773.5 L441.3 765.5 M419.6 773.0 L439.6 765.0 M417.9 772.4 L437.9 764.4 M416.3 771.7 L436.3 763.7 M414.6 770.8 L434.6 762.8 M412.9 769.8 L432.9 761.8 M411.3 768.7 L431.3 760.7 M409.7 767.5 L429.7 759.5 M408.1 766.2 L428.1 758.2 M406.6 764.8 L426.6 756.8 M405.1 763.3 L425.1 755.3 M403.6 761.7 L423.6 753.7 M402.2 760.0 L422.2 752.0 M400.9 758.2 L420.9 750.2 M399.6 756.4 L419.6 748.4 M398.4 754.4 L418.4 746.4 M397.2 752.4 L417.2 744.4 M396.1 750.4 L416.1 742.4 M395.1 748.3 L415.1 740.3 M394.2 746.2 L414.2 738.2 M393.4 744.0 L413.4 736.0 M392.6 741.8 L412.6 733.8 M391.9 739.5 L411.9 731.5 M391.3 737.3 L411.3 729.3 M390.8 735.0 L410.8 727.0 M390.4 732.7 L410.4 724.7 M390.1 730.5 L410.1 722.5 M389.9 728.2 L409.9 720.2 M389.7 726.0 L409.7 718.0 M389.7 723.8 L409.7 715.8 M389.8 721.6 L409.8 713.6 M389.9 719.5 L409.9 711.5 M390.2 717.4 L410.2 709.4 M390.5 715.4 L410.5 707.4 M391.0 713.4 L411.0 705.4 M391.5 711.5 L411.5 703.5 M392.1 709.7 L412.1 701.7 M392.9 708.0 L412.9 700.0 M393.6 706.3 L413.6 698.3 M394.5 704.7 L414.5 696.7 M395.5 703.2 L415.5 695.2 M396.5 701.9 L416.5 693.9 M397.6 700.6 L417.6 692.6 M398.8 699.4 L418.8 691.4 M400.1 698.4 L420.1 690.4 M401.4 697.4 L421.4 689.4 M402.7 696.6 L422.7 688.6 M404.1 695.9 L424.1 687.9 M405.6 695.4 L425.6 687.4 M407.1 694.9 L427.1 686.9 M408.7 694.6 L428.7 686.6 M410.3 694.4 L430.3 686.4 M411.9 694.3 L431.9 686.3 M413.5 694.4 L433.5 686.4 M415.2 694.6 L435.2 686.6 M416.9 694.9 L436.9 686.9 M418.5 695.4 L438.5 687.4 M420.2 695.9 L440.2 687.9" stroke-width="0.55"/><path d="M423.5 689.6 L423.8 688.1 L424.5 687.8 L425.8 688.6 L426.2 687.2 L426.9 687.0 L428.1 688.0 L428.6 686.6 L429.3 686.5 L430.5 687.6 L431.1 686.4 L431.9 686.3 L433.0 687.6 L433.7 686.4 L434.5 686.5 L435.5 687.8 L436.3 686.8 L437.1 687.0 L438.1 688.4 L439.0 687.5 L439.8 687.8 L440.7 689.3 L441.7 688.5 L442.5 688.9 L443.3 690.5 L444.3 689.8 L445.1 690.3 L445.8 691.9 L446.9 691.5 L447.7 692.0 L448.3 693.7 L449.5 693.4 L450.2 694.0 L450.7 695.7 L451.9 695.5 L452.6 696.2 L453.0 697.9 L454.3 697.9 L455.0 698.7 L455.3 700.4 L456.5 700.6 L457.2 701.4 L457.4 703.1 L458.6 703.4 L459.2 704.3 L459.3 706.0 L460.6 706.4 L461.1 707.4 L461.1 709.0 L462.4 709.6 L462.9 710.6 L462.7 712.2 L464.0 712.9 L464.4 714.0 L464.1 715.5 L465.4 716.4 L465.7 717.4 L465.3 718.9 L466.5 719.9 L466.9 720.9 L466.4 722.3 L467.5 723.4 L467.8 724.5 L467.2 725.8 L468.3 727.0 L468.4 728.1 L467.7 729.3 L468.8 730.6 L468.9 731.7 L468.1 732.7 L469.0 734.2 L469.1 735.2 L468.2 736.1 L469.1 737.6 L469.0 738.7 L468.1 739.4 L468.9 741.0 L468.8 742.0 L467.7 742.7 L468.4 744.3 L468.2 745.2 L467.2 745.7 L467.8 747.4 L467.5 748.3 L466.4 748.7 L466.8 750.4 L466.5 751.2 L465.3 751.4 L465.7 753.1 L465.3 753.9 L464.1 754.0 L464.4 755.7 L463.9 756.4 L462.7 756.3 L462.9 758.0 L462.4 758.6 L461.1 758.4 L461.1 760.0 L460.6 760.6 L459.3 760.2 L459.2 761.8 L458.6 762.3 L457.3 761.7 L457.2 763.3 L456.5 763.7 L455.3 763.0 L455.0 764.5 L454.3 764.8 L453.0 764.0 L452.6 765.4 L451.9 765.6 L450.7 764.6 L450.2 766.0 L449.5 766.1 L448.3 765.0 L447.7 766.2 L446.9 766.3 L445.8 765.0 L445.1 766.2 L444.3 766.1 L443.3 764.8 L442.5 765.8 L441.7 765.6 L440.7 764.2 L439.8 765.1 L439.0 764.8 L438.1 763.3 L437.1 764.1 L436.3 763.7 L435.5 762.1 L434.5 762.8 L433.7 762.3 L433.0 760.7 L431.9 761.1 L431.1 760.6 L430.5 758.9 L429.3 759.2 L428.6 758.6 L428.1 756.9 L426.9 757.1 L426.2 756.4 L425.8 754.7 L424.5 754.7 L423.8 753.9 L423.5 752.2 L422.3 752.0 L421.6 751.2 L421.4 749.5 L420.2 749.2 L419.6 748.3 L419.5 746.6 L418.2 746.2 L417.7 745.2 L417.7 743.6 L416.4 743.0 L415.9 742.0 L416.1 740.4 L414.8 739.7 L414.4 738.6 L414.7 737.1 L413.4 736.2 L413.1 735.2 L413.5 733.7 L412.3 732.7 L411.9 731.7 L412.4 730.3 L411.3 729.2 L411.0 728.1 L411.6 726.8 L410.5 725.6 L410.4 724.5 L411.1 723.3 L410.0 722.0 L409.9 720.9 L410.7 719.9 L409.8 718.4 L409.7 717.4 L410.6 716.5 L409.7 715.0 L409.8 713.9 L410.7 713.2 L409.9 711.6 L410.0 710.6 L411.1 709.9 L410.4 708.3 L410.6 707.4 L411.6 706.9 L411.0 705.2 L411.3 704.3 L412.4 703.9 L412.0 702.2 L412.3 701.4 L413.5 701.2 L413.1 699.5 L413.5 698.7 L414.7 698.6 L414.4 696.9 L414.9 696.2 L416.1 696.3 L415.9 694.6 L416.4 694.0 L417.7 694.2 L417.7 692.6 L418.2 692.0 L419.5 692.4 L419.6 690.8 L420.2 690.3 L421.5 690.9 L421.6 689.3 L422.3 688.9 L423.5 689.6 Z" stroke-width="0.4" fill="#fff"/></g></g><path d="M395.5 663.3 L401.9 683.8" stroke="#231f20" stroke-width="1.3" fill="none"/><path d="M403.9 690.0 L398.7 683.8 L404.6 681.9 Z" fill="#231f20"/><path d="M474.9 623.7 L481.8 645.5" stroke="#231f20" stroke-width="1.3" fill="none"/><path d="M483.7 651.7 L478.5 645.5 L484.4 643.6 Z" fill="#231f20"/><path d="M580.4 724.7 L574.5 704.3" stroke="#231f20" stroke-width="1.3" fill="none"/><path d="M572.7 698.1 L577.8 704.4 L571.8 706.2 Z" fill="#231f20"/></svg>
<div class="r" style="left:45px;top:90px;width:574px;height:1px"></div>
<div class="r" style="left:45px;top:92px;width:575px;height:2px;border-radius:1px"></div>
<div class="r" style="left:45px;top:879px;width:574px;height:1px"></div>
<div class="t b" style="left:234.08px;top:48px;font-size:15.3px;transform:scaleX(0.9224)">SECTION 4 TRAVEL SYSTEM</div>
<div class="t b" style="left:275.20px;top:71px;font-size:14.2px;transform:scaleX(0.9152)">Group 2 Drive Unit</div>
<div class="t" style="left:58.10px;top:320px;font-size:11.0px;transform:scaleX(0.9500)">6.</div>
<div class="t" style="left:72.45px;top:320px;font-size:11.0px;transform:scaleX(0.9514)">Push down spring retainer (13) by using a press, and</div>
<div class="t" style="left:72.44px;top:334px;font-size:11.0px;transform:scaleX(0.9560)">remove snap ring (83).</div>
<div class="t" style="left:57.01px;top:354px;font-size:11.0px;transform:scaleX(1.0857)">7.</div>
<div class="t" style="left:72.45px;top:354px;font-size:11.0px;transform:scaleX(0.9510)">Remove the press, and remove spring retainer (13).</div>
<div class="t" style="left:58.00px;top:580px;font-size:11.0px;transform:scaleX(0.9625)">8.</div>
<div class="t" style="left:72.24px;top:580px;font-size:11.0px;transform:scaleX(0.9617)">Remove springs (74) (12 used) from clutch drum</div>
<div class="t" style="left:72.14px;top:593px;font-size:11.0px;transform:scaleX(0.9619)">(22).</div>
<div class="t" style="left:58.00px;top:627px;font-size:11.0px;transform:scaleX(0.9625)">9.</div>
<div class="t" style="left:72.24px;top:627px;font-size:11.0px;transform:scaleX(0.9582)">Remove piston (9).</div>
<div class="t" style="left:352.39px;top:320px;font-size:11.0px;transform:scaleX(0.9071)">10.</div>
<div class="t" style="left:372.25px;top:320px;font-size:11.0px;transform:scaleX(0.9485)">Remove U-rings (68, 69) from piston (9).</div>
<div class="t" style="left:352.32px;top:565px;font-size:11.0px;transform:scaleX(0.9769)">11.</div>
<div class="t" style="left:372.24px;top:565px;font-size:11.0px;transform:scaleX(0.9571)">Remove bolts (115) (22 used) from clutch hub (6)</div>
<div class="t" style="left:373.20px;top:578px;font-size:11.0px;transform:scaleX(0.9549)">and remove drop gear (47).</div>
<div class="t" style="left:352.39px;top:813px;font-size:11.0px;transform:scaleX(0.9071)">12.</div>
<div class="t" style="left:372.25px;top:813px;font-size:11.0px;transform:scaleX(0.9481)">Remove snap ring (80) to separate the assembly</div>
<div class="t" style="left:372.22px;top:827px;font-size:11.0px;transform:scaleX(0.9788)">into clutch hub (6) and clutch drum (22).</div>
<div class="t c" style="left:245.70px;top:292px;font-size:8.5px;transform:scaleX(0.9416)">95WNEC-04-02-121</div>
<div class="t c" style="left:540.74px;top:292px;font-size:8.5px;transform:scaleX(0.9625)">115WNEC-04-02-146</div>
<div class="t c" style="left:240.74px;top:552px;font-size:8.5px;transform:scaleX(0.9625)">115WNEC-04-02-145</div>
<div class="t c" style="left:540.74px;top:537px;font-size:8.5px;transform:scaleX(0.9625)">115WNEC-04-02-147</div>
<div class="t c" style="left:540.74px;top:785px;font-size:8.5px;transform:scaleX(0.9625)">115WNEC-04-02-148</div>
<div class="t" style="left:302.80px;top:888px;font-size:14.4px;transform:scaleX(0.8559)">W4-2-5-33</div>
<div class="t b" style="left:87.01px;top:230px;font-size:10.0px;transform:scaleX(1.0900)">13</div>
<div class="t b" style="left:275.50px;top:230px;font-size:10.0px;transform:scaleX(0.9636)">83</div>
<div class="t b" style="left:384.00px;top:178px;font-size:10.0px;transform:scaleX(1.2000)">9</div>
<div class="t b" style="left:506.00px;top:260px;font-size:10.0px;transform:scaleX(1.0091)">68</div>
<div class="t b" style="left:550.20px;top:258px;font-size:10.0px;transform:scaleX(0.9818)">69</div>
<div class="t b" style="left:230.10px;top:403px;font-size:10.0px;transform:scaleX(1.0364)">74</div>
<div class="t b" style="left:120.80px;top:441px;font-size:10.0px;transform:scaleX(1.0800)">9</div>
<div class="t b" style="left:275.70px;top:441px;font-size:10.0px;transform:scaleX(0.9818)">22</div>
<div class="t b" style="left:386.90px;top:399px;font-size:10.0px;transform:scaleX(1.0182)">22</div>
<div class="t b" style="left:450.20px;top:408px;font-size:10.0px;transform:scaleX(1.1600)">6</div>
<div class="t b" style="left:570.59px;top:392px;font-size:10.0px;transform:scaleX(1.1067)">115</div>
<div class="t b" style="left:550.20px;top:503px;font-size:10.0px;transform:scaleX(1.0273)">47</div>
<div class="t b" style="left:387.10px;top:652px;font-size:10.0px;transform:scaleX(1.0182)">22</div>
<div class="t b" style="left:469.30px;top:612px;font-size:10.0px;transform:scaleX(1.1200)">6</div>
<div class="t b" style="left:576.00px;top:730px;font-size:10.0px;transform:scaleX(1.0545)">80</div>
</body></html>
